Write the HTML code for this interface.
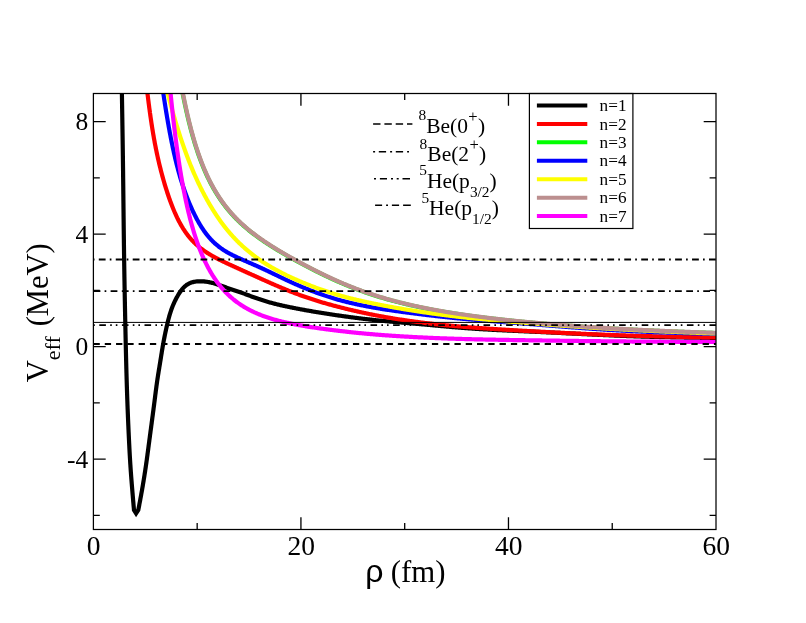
<!DOCTYPE html>
<html><head><meta charset="utf-8"><title>Veff</title>
<style>
html,body{margin:0;padding:0;background:#fff;}
body{width:806px;height:623px;overflow:hidden;}
svg{display:block;}
text{font-family:"Liberation Serif",serif;fill:#000;}
svg{will-change:transform;}
</style></head><body>
<svg width="806" height="623" viewBox="0 0 806 623">
<defs><clipPath id="c"><rect x="93.40" y="93.50" width="622.60" height="436.00"/></clipPath></defs>
<rect x="0" y="0" width="806" height="623" fill="#ffffff"/>
<g clip-path="url(#c)" fill="none" stroke-linejoin="miter" stroke-miterlimit="10" stroke-linecap="butt">
<path d="M121.36 60.00 L121.38 60.80 L121.39 61.61 L121.40 62.41 L121.41 63.21 L121.43 64.01 L121.44 64.82 L121.45 65.62 L121.46 66.42 L121.48 67.22 L121.49 68.03 L121.50 68.83 L121.51 69.63 L121.53 70.43 L121.54 71.24 L121.55 72.04 L121.57 72.84 L121.58 73.64 L121.59 74.45 L121.61 75.25 L121.62 76.05 L121.63 76.85 L121.64 77.66 L121.66 78.46 L121.67 79.26 L121.68 80.06 L121.70 80.87 L121.71 81.67 L121.72 82.47 L121.74 83.27 L121.75 84.08 L121.76 84.88 L121.77 85.68 L121.79 86.48 L121.80 87.29 L121.81 88.09 L121.83 88.89 L121.84 89.69 L121.85 90.50 L121.87 91.30 L121.88 92.10 L121.89 92.90 L121.91 93.71 L121.92 94.51 L121.93 95.31 L121.95 96.11 L121.96 96.92 L121.97 97.72 L121.98 98.52 L122.00 99.32 L122.01 100.13 L122.02 100.93 L122.04 101.73 L122.05 102.53 L122.06 103.34 L122.08 104.14 L122.09 104.94 L122.10 105.74 L122.12 106.55 L122.13 107.35 L122.14 108.15 L122.15 108.95 L122.17 109.76 L122.18 110.56 L122.19 111.36 L122.21 112.16 L122.22 112.97 L122.23 113.77 L122.25 114.57 L122.26 115.37 L122.27 116.18 L122.28 116.98 L122.30 117.78 L122.31 118.58 L122.32 119.39 L122.34 120.19 L122.35 120.99 L122.36 121.79 L122.37 122.60 L122.39 123.40 L122.40 124.20 L122.41 125.00 L122.42 125.81 L122.44 126.61 L122.45 127.41 L122.46 128.21 L122.47 129.02 L122.49 129.82 L122.50 130.62 L122.51 131.42 L122.52 132.23 L122.54 133.03 L122.55 133.83 L122.56 134.64 L122.57 135.44 L122.59 136.24 L122.60 137.04 L122.61 137.85 L122.62 138.65 L122.63 139.45 L122.65 140.25 L122.66 141.06 L122.67 141.86 L122.68 142.66 L122.69 143.46 L122.70 144.27 L122.72 145.07 L122.73 145.87 L122.74 146.67 L122.75 147.48 L122.76 148.28 L122.77 149.08 L122.79 149.88 L122.80 150.69 L122.81 151.49 L122.82 152.29 L122.83 153.09 L122.84 153.90 L122.85 154.70 L122.86 155.50 L122.88 156.30 L122.89 157.11 L122.90 157.91 L122.91 158.71 L122.92 159.51 L122.93 160.32 L122.94 161.12 L122.95 161.92 L122.96 162.72 L122.97 163.53 L122.98 164.33 L122.99 165.13 L123.00 165.93 L123.01 166.74 L123.02 167.54 L123.04 168.34 L123.05 169.14 L123.06 169.95 L123.07 170.75 L123.08 171.55 L123.09 172.36 L123.10 173.16 L123.11 173.96 L123.11 174.76 L123.12 175.57 L123.13 176.37 L123.14 177.17 L123.15 177.97 L123.16 178.78 L123.17 179.58 L123.18 180.38 L123.19 181.18 L123.20 181.99 L123.21 182.79 L123.22 183.59 L123.23 184.39 L123.24 185.20 L123.25 186.00 L123.26 186.80 L123.27 187.60 L123.28 188.41 L123.28 189.21 L123.29 190.01 L123.30 190.81 L123.31 191.62 L123.32 192.42 L123.33 193.22 L123.34 194.02 L123.35 194.83 L123.36 195.63 L123.37 196.43 L123.38 197.24 L123.38 198.04 L123.39 198.84 L123.40 199.64 L123.41 200.45 L123.42 201.25 L123.43 202.05 L123.44 202.85 L123.45 203.66 L123.46 204.46 L123.47 205.26 L123.47 206.06 L123.48 206.87 L123.49 207.67 L123.50 208.47 L123.51 209.27 L123.52 210.08 L123.53 210.88 L123.54 211.68 L123.55 212.48 L123.56 213.29 L123.56 214.09 L123.57 214.89 L123.58 215.69 L123.59 216.50 L123.60 217.30 L123.61 218.10 L123.62 218.90 L123.63 219.71 L123.64 220.51 L123.65 221.31 L123.66 222.12 L123.67 222.92 L123.67 223.72 L123.68 224.52 L123.69 225.33 L123.70 226.13 L123.71 226.93 L123.72 227.73 L123.73 228.54 L123.74 229.34 L123.75 230.14 L123.76 230.94 L123.77 231.75 L123.78 232.55 L123.79 233.35 L123.80 234.15 L123.81 234.96 L123.82 235.76 L123.83 236.56 L123.84 237.36 L123.85 238.17 L123.86 238.97 L123.87 239.77 L123.88 240.57 L123.89 241.38 L123.90 242.18 L123.91 242.98 L123.92 243.78 L123.93 244.59 L123.94 245.39 L123.95 246.19 L123.97 246.99 L123.98 247.80 L123.99 248.60 L124.00 249.40 L124.01 250.20 L124.02 251.01 L124.03 251.81 L124.04 252.61 L124.05 253.42 L124.07 254.22 L124.08 255.02 L124.09 255.82 L124.10 256.63 L124.11 257.43 L124.12 258.23 L124.14 259.03 L124.15 259.84 L124.16 260.64 L124.17 261.44 L124.18 262.24 L124.20 263.05 L124.21 263.85 L124.22 264.65 L124.23 265.45 L124.25 266.26 L124.26 267.06 L124.27 267.86 L124.28 268.66 L124.30 269.47 L124.31 270.27 L124.32 271.07 L124.34 271.87 L124.35 272.68 L124.36 273.48 L124.37 274.28 L124.39 275.08 L124.40 275.89 L124.41 276.69 L124.43 277.49 L124.44 278.29 L124.45 279.10 L124.47 279.90 L124.48 280.70 L124.50 281.50 L124.51 282.31 L124.52 283.11 L124.54 283.91 L124.55 284.71 L124.57 285.52 L124.58 286.32 L124.59 287.12 L124.61 287.92 L124.62 288.73 L124.64 289.53 L124.65 290.33 L124.67 291.13 L124.68 291.94 L124.70 292.74 L124.71 293.54 L124.72 294.34 L124.74 295.15 L124.75 295.95 L124.77 296.75 L124.78 297.55 L124.80 298.36 L124.81 299.16 L124.83 299.96 L124.84 300.76 L124.86 301.57 L124.88 302.37 L124.89 303.17 L124.91 303.97 L124.92 304.78 L124.94 305.58 L124.95 306.38 L124.97 307.18 L124.98 307.99 L125.00 308.79 L125.02 309.59 L125.03 310.39 L125.05 311.20 L125.06 312.00 L125.08 312.80 L125.10 313.60 L125.11 314.41 L125.13 315.21 L125.14 316.01 L125.16 316.81 L125.18 317.62 L125.19 318.42 L125.21 319.22 L125.23 320.02 L125.24 320.83 L125.26 321.63 L125.28 322.43 L125.29 323.23 L125.31 324.04 L125.33 324.84 L125.34 325.64 L125.36 326.44 L125.38 327.25 L125.39 328.05 L125.41 328.85 L125.43 329.65 L125.45 330.46 L125.46 331.26 L125.48 332.06 L125.50 332.86 L125.51 333.66 L125.53 334.47 L125.55 335.27 L125.57 336.07 L125.58 336.87 L125.60 337.68 L125.62 338.48 L125.64 339.28 L125.65 340.08 L125.67 340.89 L125.69 341.69 L125.71 342.49 L125.73 343.29 L125.74 344.10 L125.76 344.90 L125.78 345.70 L125.80 346.50 L125.82 347.31 L125.84 348.11 L125.86 348.91 L125.87 349.71 L125.89 350.52 L125.91 351.32 L125.93 352.12 L125.95 352.92 L125.97 353.73 L125.99 354.53 L126.01 355.33 L126.03 356.13 L126.05 356.94 L126.07 357.74 L126.09 358.54 L126.11 359.34 L126.13 360.14 L126.15 360.95 L126.17 361.75 L126.19 362.55 L126.21 363.35 L126.23 364.16 L126.25 364.96 L126.27 365.76 L126.29 366.56 L126.31 367.37 L126.33 368.17 L126.35 368.97 L126.38 369.77 L126.40 370.58 L126.42 371.38 L126.44 372.18 L126.46 372.98 L126.49 373.78 L126.51 374.59 L126.53 375.39 L126.55 376.19 L126.58 376.99 L126.60 377.80 L126.62 378.60 L126.65 379.40 L126.67 380.20 L126.69 381.01 L126.72 381.81 L126.74 382.61 L126.77 383.41 L126.79 384.21 L126.81 385.02 L126.84 385.82 L126.86 386.62 L126.89 387.42 L126.92 388.23 L126.94 389.03 L126.97 389.83 L126.99 390.63 L127.02 391.43 L127.04 392.24 L127.07 393.04 L127.10 393.84 L127.13 394.64 L127.15 395.45 L127.18 396.25 L127.21 397.05 L127.23 397.85 L127.26 398.65 L127.29 399.46 L127.32 400.26 L127.35 401.06 L127.38 401.86 L127.41 402.66 L127.43 403.47 L127.46 404.27 L127.49 405.07 L127.52 405.87 L127.55 406.68 L127.58 407.48 L127.61 408.28 L127.65 409.08 L127.68 409.88 L127.71 410.69 L127.74 411.49 L127.77 412.29 L127.80 413.09 L127.84 413.89 L127.87 414.70 L127.90 415.50 L127.93 416.30 L127.97 417.10 L128.00 417.90 L128.03 418.71 L128.07 419.51 L128.10 420.31 L128.13 421.11 L128.17 421.91 L128.20 422.71 L128.24 423.52 L128.27 424.32 L128.31 425.12 L128.34 425.92 L128.38 426.72 L128.41 427.53 L128.45 428.33 L128.48 429.13 L128.52 429.93 L128.56 430.73 L128.59 431.53 L128.63 432.34 L128.67 433.14 L128.70 433.94 L128.74 434.74 L128.78 435.54 L128.82 436.35 L128.85 437.15 L128.89 437.95 L128.93 438.75 L128.97 439.55 L129.01 440.35 L129.05 441.16 L129.09 441.96 L129.13 442.76 L129.17 443.56 L129.21 444.36 L129.25 445.16 L129.29 445.97 L129.33 446.77 L129.37 447.57 L129.41 448.37 L129.45 449.17 L129.49 449.97 L129.54 450.77 L129.58 451.58 L129.62 452.38 L129.67 453.18 L129.71 453.98 L129.76 454.78 L129.80 455.58 L129.85 456.38 L129.89 457.19 L129.94 457.99 L129.99 458.79 L130.04 459.59 L130.08 460.39 L130.13 461.19 L130.18 461.99 L130.23 462.79 L130.28 463.60 L130.33 464.40 L130.39 465.20 L130.44 466.00 L130.49 466.80 L130.55 467.60 L130.60 468.40 L130.65 469.20 L130.71 470.00 L130.77 470.80 L130.82 471.60 L130.88 472.40 L130.94 473.20 L131.00 474.00 L131.06 474.81 L131.12 475.61 L131.18 476.41 L131.24 477.21 L131.30 478.01 L131.36 478.81 L131.43 479.61 L131.49 480.41 L131.55 481.21 L131.62 482.01 L131.68 482.81 L131.74 483.61 L131.81 484.41 L131.87 485.21 L131.94 486.01 L132.01 486.81 L132.07 487.61 L132.14 488.41 L132.20 489.21 L132.27 490.01 L132.34 490.81 L132.40 491.61 L132.47 492.41 L132.54 493.21 L132.61 494.01 L132.67 494.81 L132.74 495.61 L132.81 496.41 L132.88 497.20 L132.95 498.00 L133.01 498.80 L133.08 499.60 L133.15 500.40 L133.22 501.20 L133.29 502.00 L133.36 502.80 L133.43 503.60 L133.49 504.40 L133.56 505.20 L133.63 506.00 L133.70 506.80 L133.77 507.60 L133.84 508.40 L133.91 509.20 L133.98 510.00 L136.10 513.30 L138.31 510.00 L138.46 509.21 L138.61 508.43 L138.76 507.64 L138.91 506.85 L139.06 506.06 L139.21 505.28 L139.35 504.49 L139.50 503.70 L139.65 502.91 L139.80 502.13 L139.95 501.34 L140.10 500.55 L140.24 499.76 L140.39 498.97 L140.54 498.19 L140.68 497.40 L140.83 496.61 L140.97 495.82 L141.12 495.03 L141.26 494.24 L141.40 493.45 L141.54 492.67 L141.68 491.88 L141.82 491.09 L141.96 490.30 L142.10 489.51 L142.24 488.72 L142.38 487.93 L142.52 487.14 L142.65 486.35 L142.79 485.56 L142.92 484.77 L143.05 483.98 L143.19 483.19 L143.32 482.40 L143.45 481.61 L143.58 480.82 L143.71 480.02 L143.84 479.23 L143.97 478.44 L144.10 477.65 L144.22 476.86 L144.35 476.07 L144.48 475.28 L144.60 474.48 L144.72 473.69 L144.85 472.90 L144.97 472.11 L145.09 471.32 L145.21 470.52 L145.33 469.73 L145.45 468.94 L145.57 468.14 L145.69 467.35 L145.80 466.56 L145.92 465.77 L146.03 464.97 L146.15 464.18 L146.26 463.39 L146.37 462.59 L146.49 461.80 L146.60 461.00 L146.71 460.21 L146.82 459.42 L146.93 458.62 L147.04 457.83 L147.14 457.03 L147.25 456.24 L147.36 455.44 L147.47 454.65 L147.57 453.86 L147.68 453.06 L147.79 452.27 L147.89 451.47 L148.00 450.68 L148.10 449.88 L148.21 449.09 L148.32 448.29 L148.42 447.50 L148.52 446.70 L148.63 445.91 L148.73 445.11 L148.84 444.32 L148.94 443.53 L149.05 442.73 L149.15 441.94 L149.26 441.14 L149.36 440.35 L149.47 439.55 L149.57 438.76 L149.68 437.96 L149.78 437.17 L149.89 436.37 L149.99 435.58 L150.10 434.78 L150.20 433.99 L150.31 433.19 L150.42 432.40 L150.52 431.61 L150.63 430.81 L150.73 430.02 L150.84 429.22 L150.95 428.43 L151.05 427.63 L151.16 426.84 L151.26 426.04 L151.37 425.25 L151.48 424.45 L151.58 423.66 L151.69 422.87 L151.79 422.07 L151.90 421.28 L152.01 420.48 L152.11 419.69 L152.22 418.89 L152.32 418.10 L152.43 417.30 L152.53 416.51 L152.64 415.71 L152.74 414.92 L152.85 414.12 L152.95 413.33 L153.06 412.53 L153.16 411.74 L153.27 410.95 L153.37 410.15 L153.48 409.36 L153.58 408.56 L153.68 407.77 L153.79 406.97 L153.89 406.18 L153.99 405.38 L154.10 404.59 L154.20 403.79 L154.30 403.00 L154.40 402.20 L154.50 401.41 L154.61 400.61 L154.71 399.82 L154.81 399.02 L154.91 398.22 L155.01 397.43 L155.11 396.63 L155.21 395.84 L155.31 395.04 L155.41 394.25 L155.51 393.45 L155.62 392.66 L155.72 391.86 L155.82 391.07 L155.92 390.27 L156.03 389.48 L156.13 388.68 L156.23 387.89 L156.34 387.09 L156.45 386.30 L156.55 385.51 L156.66 384.71 L156.77 383.92 L156.88 383.12 L157.00 382.33 L157.11 381.54 L157.22 380.74 L157.34 379.95 L157.46 379.16 L157.58 378.36 L157.70 377.57 L157.82 376.78 L157.94 375.99 L158.07 375.20 L158.19 374.40 L158.32 373.61 L158.45 372.82 L158.57 372.03 L158.70 371.24 L158.83 370.45 L158.96 369.66 L159.09 368.86 L159.22 368.07 L159.35 367.28 L159.48 366.49 L159.61 365.70 L159.74 364.91 L159.87 364.12 L159.99 363.33 L160.12 362.53 L160.25 361.74 L160.38 360.95 L160.50 360.16 L160.63 359.37 L160.75 358.58 L160.88 357.79 L161.01 356.99 L161.13 356.20 L161.26 355.41 L161.38 354.62 L161.51 353.83 L161.64 353.04 L161.76 352.24 L161.89 351.45 L162.02 350.66 L162.15 349.87 L162.28 349.08 L162.42 348.29 L162.55 347.50 L162.68 346.71 L162.82 345.92 L162.96 345.13 L163.10 344.34 L163.24 343.55 L163.38 342.76 L163.53 341.97 L163.67 341.19 L163.82 340.40 L163.97 339.61 L164.12 338.82 L164.28 338.04 L164.43 337.25 L164.59 336.46 L164.74 335.68 L164.90 334.89 L165.07 334.11 L165.23 333.32 L165.39 332.54 L165.56 331.75 L165.73 330.97 L165.90 330.19 L166.07 329.40 L166.24 328.62 L166.42 327.84 L166.59 327.06 L166.77 326.27 L166.95 325.49 L167.13 324.71 L167.32 323.93 L167.50 323.15 L167.69 322.37 L167.88 321.59 L168.07 320.82 L168.26 320.04 L168.46 319.26 L168.66 318.49 L168.87 317.71 L169.08 316.94 L169.29 316.16 L169.51 315.39 L169.74 314.62 L169.97 313.86 L170.21 313.09 L170.45 312.33 L170.70 311.56 L170.95 310.80 L171.21 310.05 L171.48 309.29 L171.76 308.54 L172.04 307.79 L172.32 307.04 L172.62 306.29 L172.92 305.55 L173.23 304.81 L173.54 304.07 L173.87 303.34 L174.19 302.61 L174.53 301.88 L174.87 301.16 L175.22 300.43 L175.58 299.72 L175.94 299.00 L176.31 298.29 L176.69 297.58 L177.07 296.88 L177.47 296.18 L177.87 295.49 L178.28 294.80 L178.70 294.12 L179.13 293.44 L179.57 292.77 L180.01 292.10 L180.47 291.44 L180.93 290.79 L181.41 290.15 L181.90 289.51 L182.41 288.89 L182.94 288.29 L183.48 287.70 L184.04 287.12 L184.62 286.57 L185.22 286.04 L185.84 285.54 L186.49 285.06 L187.15 284.61 L187.84 284.19 L188.54 283.80 L189.25 283.44 L189.98 283.11 L190.73 282.82 L191.48 282.55 L192.25 282.31 L193.02 282.10 L193.80 281.92 L194.59 281.76 L195.38 281.63 L196.17 281.52 L196.97 281.43 L197.77 281.37 L198.57 281.32 L199.37 281.29 L200.17 281.28 L200.97 281.29 L201.77 281.31 L202.57 281.34 L203.37 281.40 L204.17 281.46 L204.97 281.55 L205.77 281.64 L206.56 281.75 L207.35 281.88 L208.14 282.01 L208.93 282.16 L209.72 282.32 L210.50 282.49 L211.28 282.67 L212.06 282.86 L212.84 283.06 L213.61 283.27 L214.38 283.49 L215.15 283.71 L215.92 283.94 L216.68 284.18 L217.45 284.43 L218.21 284.68 L218.97 284.93 L219.73 285.19 L220.48 285.45 L221.24 285.72 L222.00 285.99 L222.75 286.26 L223.50 286.53 L224.26 286.80 L225.01 287.07 L225.77 287.34 L226.52 287.61 L227.28 287.88 L228.03 288.15 L228.79 288.42 L229.54 288.69 L230.30 288.96 L231.05 289.22 L231.81 289.49 L232.57 289.75 L233.33 290.01 L234.08 290.27 L234.84 290.53 L235.60 290.79 L236.36 291.04 L237.12 291.30 L237.88 291.55 L238.64 291.80 L239.40 292.06 L240.16 292.31 L240.92 292.57 L241.68 292.83 L242.44 293.09 L243.20 293.36 L243.95 293.62 L244.71 293.89 L245.46 294.17 L246.21 294.44 L246.96 294.72 L247.71 295.00 L248.46 295.29 L249.21 295.57 L249.96 295.85 L250.72 296.13 L251.47 296.41 L252.22 296.69 L252.97 296.96 L253.73 297.24 L254.48 297.51 L255.23 297.78 L255.99 298.05 L256.75 298.31 L257.50 298.57 L258.26 298.84 L259.02 299.09 L259.78 299.35 L260.54 299.60 L261.30 299.85 L262.06 300.10 L262.83 300.35 L263.59 300.59 L264.36 300.83 L265.12 301.06 L265.89 301.29 L266.66 301.52 L267.43 301.75 L268.20 301.97 L268.97 302.19 L269.74 302.41 L270.51 302.62 L271.29 302.83 L272.06 303.04 L272.84 303.24 L273.61 303.45 L274.39 303.65 L275.17 303.84 L275.94 304.04 L276.72 304.23 L277.50 304.42 L278.28 304.61 L279.06 304.79 L279.84 304.98 L280.62 305.16 L281.40 305.34 L282.18 305.51 L282.97 305.69 L283.75 305.86 L284.53 306.04 L285.31 306.21 L286.10 306.37 L286.88 306.54 L287.67 306.71 L288.45 306.87 L289.24 307.03 L290.02 307.20 L290.81 307.36 L291.59 307.52 L292.38 307.67 L293.16 307.83 L293.95 307.99 L294.74 308.14 L295.52 308.30 L296.31 308.45 L297.10 308.60 L297.88 308.75 L298.67 308.90 L299.46 309.05 L300.25 309.20 L301.04 309.34 L301.82 309.49 L302.61 309.64 L303.40 309.78 L304.19 309.92 L304.98 310.07 L305.77 310.21 L306.56 310.35 L307.35 310.49 L308.14 310.63 L308.93 310.76 L309.71 310.90 L310.50 311.04 L311.29 311.18 L312.08 311.31 L312.87 311.45 L313.67 311.58 L314.46 311.71 L315.25 311.85 L316.04 311.98 L316.83 312.11 L317.62 312.24 L318.41 312.37 L319.20 312.50 L319.99 312.63 L320.78 312.76 L321.57 312.89 L322.36 313.02 L323.16 313.14 L323.95 313.27 L324.74 313.40 L325.53 313.52 L326.32 313.65 L327.12 313.77 L327.91 313.89 L328.70 314.02 L329.49 314.14 L330.28 314.26 L331.08 314.38 L331.87 314.50 L332.66 314.62 L333.45 314.74 L334.25 314.86 L335.04 314.98 L335.83 315.09 L336.63 315.21 L337.42 315.33 L338.21 315.44 L339.01 315.56 L339.80 315.67 L340.59 315.79 L341.39 315.90 L342.18 316.01 L342.97 316.12 L343.77 316.23 L344.56 316.34 L345.36 316.45 L346.15 316.56 L346.94 316.67 L347.74 316.78 L348.53 316.89 L349.33 316.99 L350.12 317.10 L350.92 317.21 L351.71 317.31 L352.51 317.41 L353.30 317.52 L354.10 317.62 L354.89 317.72 L355.69 317.82 L356.48 317.93 L357.28 318.03 L358.07 318.13 L358.87 318.22 L359.66 318.32 L360.46 318.42 L361.25 318.52 L362.05 318.61 L362.85 318.71 L363.64 318.80 L364.44 318.90 L365.23 318.99 L366.03 319.08 L366.83 319.18 L367.62 319.27 L368.42 319.36 L369.22 319.45 L370.01 319.54 L370.81 319.63 L371.61 319.71 L372.40 319.80 L373.20 319.89 L374.00 319.97 L374.79 320.06 L375.59 320.14 L376.39 320.23 L377.19 320.31 L377.98 320.39 L378.78 320.47 L379.58 320.55 L380.38 320.63 L381.17 320.71 L381.97 320.79 L382.77 320.87 L383.57 320.95 L384.36 321.02 L385.16 321.10 L385.96 321.17 L386.76 321.25 L387.56 321.32 L388.36 321.40 L389.15 321.47 L389.95 321.54 L390.75 321.61 L391.55 321.69 L392.35 321.76 L393.15 321.83 L393.94 321.90 L394.74 321.97 L395.54 322.04 L396.34 322.11 L397.14 322.18 L397.94 322.25 L398.74 322.31 L399.53 322.38 L400.33 322.45 L401.13 322.52 L401.93 322.59 L402.73 322.66 L403.53 322.72 L404.33 322.79 L405.13 322.86 L405.92 322.93 L406.72 322.99 L407.52 323.06 L408.32 323.13 L409.12 323.20 L409.92 323.26 L410.72 323.33 L411.52 323.40 L412.31 323.47 L413.11 323.54 L413.91 323.61 L414.71 323.67 L415.51 323.74 L416.31 323.81 L417.11 323.88 L417.90 323.95 L418.70 324.02 L419.50 324.09 L420.30 324.16 L421.10 324.23 L421.90 324.30 L422.70 324.38 L423.49 324.45 L424.29 324.52 L425.09 324.59 L425.89 324.66 L426.69 324.74 L427.49 324.81 L428.28 324.88 L429.08 324.96 L429.88 325.03 L430.68 325.10 L431.48 325.18 L432.27 325.25 L433.07 325.32 L433.87 325.40 L434.67 325.47 L435.47 325.55 L436.27 325.62 L437.06 325.69 L437.86 325.77 L438.66 325.84 L439.46 325.91 L440.26 325.99 L441.06 326.06 L441.85 326.13 L442.65 326.21 L443.45 326.28 L444.25 326.35 L445.05 326.42 L445.85 326.49 L446.64 326.57 L447.44 326.64 L448.24 326.71 L449.04 326.78 L449.84 326.85 L450.64 326.92 L451.44 326.99 L452.23 327.05 L453.03 327.12 L453.83 327.19 L454.63 327.26 L455.43 327.32 L456.23 327.39 L457.03 327.46 L457.83 327.52 L458.62 327.59 L459.42 327.65 L460.22 327.71 L461.02 327.77 L461.82 327.84 L462.62 327.90 L463.42 327.96 L464.22 328.02 L465.02 328.08 L465.82 328.14 L466.62 328.19 L467.42 328.25 L468.22 328.31 L469.02 328.36 L469.82 328.42 L470.62 328.47 L471.42 328.53 L472.22 328.58 L473.02 328.64 L473.81 328.69 L474.61 328.74 L475.41 328.79 L476.21 328.84 L477.01 328.90 L477.81 328.95 L478.61 329.00 L479.41 329.05 L480.21 329.09 L481.02 329.14 L481.82 329.19 L482.62 329.24 L483.42 329.29 L484.22 329.33 L485.02 329.38 L485.82 329.42 L486.62 329.47 L487.42 329.51 L488.22 329.56 L489.02 329.60 L489.82 329.65 L490.62 329.69 L491.42 329.73 L492.22 329.78 L493.02 329.82 L493.82 329.86 L494.62 329.90 L495.42 329.94 L496.22 329.99 L497.02 330.03 L497.82 330.07 L498.62 330.11 L499.42 330.15 L500.23 330.19 L501.03 330.23 L501.83 330.27 L502.63 330.31 L503.43 330.34 L504.23 330.38 L505.03 330.42 L505.83 330.46 L506.63 330.50 L507.43 330.54 L508.23 330.57 L509.03 330.61 L509.83 330.65 L510.63 330.68 L511.44 330.72 L512.24 330.76 L513.04 330.79 L513.84 330.83 L514.64 330.87 L515.44 330.90 L516.24 330.94 L517.04 330.98 L517.84 331.01 L518.64 331.05 L519.44 331.08 L520.24 331.12 L521.04 331.15 L521.85 331.19 L522.65 331.23 L523.45 331.26 L524.25 331.30 L525.05 331.33 L525.85 331.37 L526.65 331.40 L527.45 331.44 L528.25 331.47 L529.05 331.51 L529.85 331.55 L530.65 331.58 L531.46 331.62 L532.26 331.65 L533.06 331.69 L533.86 331.72 L534.66 331.76 L535.46 331.80 L536.26 331.83 L537.06 331.87 L537.86 331.90 L538.66 331.94 L539.46 331.98 L540.26 332.01 L541.06 332.05 L541.87 332.09 L542.67 332.13 L543.47 332.16 L544.27 332.20 L545.07 332.24 L545.87 332.27 L546.67 332.31 L547.47 332.35 L548.27 332.39 L549.07 332.43 L549.87 332.46 L550.67 332.50 L551.47 332.54 L552.27 332.58 L553.08 332.62 L553.88 332.66 L554.68 332.70 L555.48 332.73 L556.28 332.77 L557.08 332.81 L557.88 332.85 L558.68 332.89 L559.48 332.93 L560.28 332.97 L561.08 333.01 L561.88 333.05 L562.68 333.08 L563.48 333.12 L564.28 333.16 L565.09 333.20 L565.89 333.24 L566.69 333.28 L567.49 333.32 L568.29 333.36 L569.09 333.40 L569.89 333.44 L570.69 333.48 L571.49 333.52 L572.29 333.56 L573.09 333.60 L573.89 333.64 L574.69 333.68 L575.49 333.72 L576.29 333.75 L577.09 333.79 L577.90 333.83 L578.70 333.87 L579.50 333.91 L580.30 333.95 L581.10 333.99 L581.90 334.03 L582.70 334.07 L583.50 334.11 L584.30 334.15 L585.10 334.18 L585.90 334.22 L586.70 334.26 L587.50 334.30 L588.30 334.34 L589.10 334.38 L589.91 334.42 L590.71 334.46 L591.51 334.49 L592.31 334.53 L593.11 334.57 L593.91 334.61 L594.71 334.65 L595.51 334.68 L596.31 334.72 L597.11 334.76 L597.91 334.80 L598.71 334.83 L599.51 334.87 L600.31 334.91 L601.12 334.94 L601.92 334.98 L602.72 335.02 L603.52 335.05 L604.32 335.09 L605.12 335.13 L605.92 335.16 L606.72 335.20 L607.52 335.23 L608.32 335.27 L609.12 335.30 L609.92 335.34 L610.73 335.37 L611.53 335.41 L612.33 335.44 L613.13 335.48 L613.93 335.51 L614.73 335.55 L615.53 335.58 L616.33 335.61 L617.13 335.65 L617.93 335.68 L618.73 335.71 L619.54 335.75 L620.34 335.78 L621.14 335.81 L621.94 335.84 L622.74 335.88 L623.54 335.91 L624.34 335.94 L625.14 335.97 L625.94 336.00 L626.74 336.03 L627.55 336.06 L628.35 336.09 L629.15 336.12 L629.95 336.15 L630.75 336.18 L631.55 336.21 L632.35 336.24 L633.15 336.27 L633.95 336.30 L634.75 336.32 L635.56 336.35 L636.36 336.38 L637.16 336.41 L637.96 336.43 L638.76 336.46 L639.56 336.48 L640.36 336.51 L641.16 336.54 L641.97 336.56 L642.77 336.59 L643.57 336.61 L644.37 336.63 L645.17 336.66 L645.97 336.68 L646.77 336.71 L647.57 336.73 L648.38 336.75 L649.18 336.77 L649.98 336.80 L650.78 336.82 L651.58 336.84 L652.38 336.86 L653.18 336.88 L653.98 336.90 L654.79 336.92 L655.59 336.94 L656.39 336.96 L657.19 336.98 L657.99 337.00 L658.79 337.02 L659.59 337.04 L660.40 337.06 L661.20 337.08 L662.00 337.10 L662.80 337.12 L663.60 337.14 L664.40 337.15 L665.20 337.17 L666.01 337.19 L666.81 337.21 L667.61 337.22 L668.41 337.24 L669.21 337.26 L670.01 337.27 L670.81 337.29 L671.62 337.30 L672.42 337.32 L673.22 337.34 L674.02 337.35 L674.82 337.37 L675.62 337.38 L676.42 337.40 L677.23 337.41 L678.03 337.43 L678.83 337.44 L679.63 337.45 L680.43 337.47 L681.23 337.48 L682.03 337.50 L682.84 337.51 L683.64 337.52 L684.44 337.54 L685.24 337.55 L686.04 337.56 L686.84 337.58 L687.65 337.59 L688.45 337.60 L689.25 337.61 L690.05 337.63 L690.85 337.64 L691.65 337.65 L692.45 337.66 L693.26 337.68 L694.06 337.69 L694.86 337.70 L695.66 337.71 L696.46 337.72 L697.26 337.74 L698.06 337.75 L698.87 337.76 L699.67 337.77 L700.47 337.78 L701.27 337.79 L702.07 337.80 L702.87 337.82 L703.68 337.83 L704.48 337.84 L705.28 337.85 L706.08 337.86 L706.88 337.87 L707.68 337.88 L708.48 337.89 L709.29 337.90 L710.09 337.91 L710.89 337.93 L711.69 337.94 L712.49 337.95 L713.29 337.96 L714.10 337.97 L714.90 337.98 L715.70 337.99 L716.50 338.00" stroke="#000000" stroke-width="4.2"/>
<path d="M144.09 63.36 L144.17 64.16 L144.25 64.96 L144.34 65.76 L144.42 66.55 L144.51 67.35 L144.60 68.15 L144.68 68.94 L144.77 69.74 L144.85 70.54 L144.94 71.33 L145.03 72.13 L145.12 72.93 L145.20 73.72 L145.29 74.52 L145.38 75.32 L145.47 76.11 L145.56 76.91 L145.64 77.71 L145.73 78.50 L145.82 79.30 L145.91 80.10 L146.00 80.89 L146.09 81.69 L146.18 82.49 L146.27 83.28 L146.37 84.08 L146.46 84.87 L146.55 85.67 L146.64 86.47 L146.73 87.26 L146.83 88.06 L146.92 88.85 L147.02 89.65 L147.11 90.45 L147.21 91.24 L147.30 92.04 L147.40 92.83 L147.49 93.63 L147.59 94.43 L147.69 95.22 L147.78 96.02 L147.88 96.81 L147.98 97.61 L148.08 98.40 L148.18 99.20 L148.28 99.99 L148.38 100.79 L148.48 101.58 L148.58 102.38 L148.68 103.17 L148.79 103.97 L148.89 104.76 L148.99 105.56 L149.10 106.35 L149.20 107.15 L149.31 107.94 L149.41 108.74 L149.52 109.53 L149.63 110.32 L149.74 111.12 L149.85 111.91 L149.95 112.71 L150.07 113.50 L150.18 114.29 L150.29 115.09 L150.40 115.88 L150.51 116.67 L150.63 117.47 L150.74 118.26 L150.86 119.05 L150.98 119.85 L151.09 120.64 L151.21 121.43 L151.33 122.23 L151.45 123.02 L151.57 123.81 L151.69 124.60 L151.81 125.39 L151.94 126.19 L152.06 126.98 L152.19 127.77 L152.31 128.56 L152.44 129.35 L152.57 130.14 L152.70 130.93 L152.83 131.72 L152.96 132.52 L153.09 133.31 L153.23 134.10 L153.36 134.89 L153.50 135.68 L153.64 136.47 L153.77 137.26 L153.91 138.04 L154.05 138.83 L154.20 139.62 L154.34 140.41 L154.48 141.20 L154.63 141.99 L154.77 142.78 L154.92 143.56 L155.07 144.35 L155.22 145.14 L155.38 145.92 L155.53 146.71 L155.68 147.50 L155.84 148.28 L156.00 149.07 L156.16 149.86 L156.32 150.64 L156.48 151.43 L156.64 152.21 L156.81 152.99 L156.97 153.78 L157.14 154.56 L157.31 155.35 L157.48 156.13 L157.65 156.91 L157.83 157.69 L158.00 158.48 L158.18 159.26 L158.36 160.04 L158.54 160.82 L158.72 161.60 L158.90 162.38 L159.09 163.16 L159.27 163.94 L159.46 164.72 L159.65 165.50 L159.84 166.28 L160.03 167.05 L160.23 167.83 L160.42 168.61 L160.62 169.39 L160.82 170.16 L161.02 170.94 L161.22 171.71 L161.42 172.49 L161.63 173.26 L161.83 174.04 L162.04 174.81 L162.25 175.59 L162.46 176.36 L162.67 177.13 L162.89 177.91 L163.10 178.68 L163.32 179.45 L163.54 180.22 L163.76 180.99 L163.98 181.76 L164.20 182.53 L164.43 183.30 L164.66 184.07 L164.88 184.84 L165.11 185.61 L165.35 186.37 L165.58 187.14 L165.81 187.91 L166.05 188.67 L166.29 189.44 L166.53 190.20 L166.78 190.96 L167.02 191.73 L167.27 192.49 L167.52 193.25 L167.77 194.01 L168.02 194.77 L168.28 195.53 L168.54 196.29 L168.80 197.05 L169.06 197.81 L169.32 198.56 L169.59 199.32 L169.86 200.07 L170.13 200.83 L170.41 201.58 L170.69 202.33 L170.97 203.08 L171.25 203.83 L171.54 204.58 L171.83 205.33 L172.12 206.07 L172.41 206.82 L172.71 207.56 L173.01 208.31 L173.31 209.05 L173.62 209.79 L173.93 210.53 L174.25 211.26 L174.56 212.00 L174.88 212.74 L175.21 213.47 L175.54 214.20 L175.87 214.93 L176.20 215.66 L176.54 216.38 L176.89 217.11 L177.23 217.83 L177.59 218.55 L177.94 219.27 L178.30 219.98 L178.67 220.70 L179.04 221.41 L179.41 222.12 L179.79 222.82 L180.17 223.53 L180.56 224.23 L180.96 224.92 L181.36 225.62 L181.76 226.31 L182.17 227.00 L182.59 227.68 L183.01 228.37 L183.44 229.04 L183.87 229.72 L184.31 230.39 L184.76 231.05 L185.21 231.72 L185.67 232.37 L186.13 233.03 L186.60 233.68 L187.08 234.32 L187.56 234.96 L188.05 235.59 L188.55 236.22 L189.05 236.84 L189.56 237.46 L190.08 238.08 L190.60 238.68 L191.13 239.28 L191.67 239.88 L192.21 240.47 L192.76 241.05 L193.32 241.63 L193.88 242.20 L194.45 242.76 L195.03 243.32 L195.61 243.87 L196.20 244.42 L196.79 244.96 L197.39 245.49 L197.99 246.01 L198.60 246.53 L199.22 247.05 L199.84 247.55 L200.47 248.05 L201.10 248.54 L201.74 249.03 L202.38 249.51 L203.03 249.98 L203.68 250.45 L204.33 250.91 L204.99 251.37 L205.66 251.82 L206.33 252.26 L207.00 252.70 L207.67 253.13 L208.35 253.55 L209.03 253.97 L209.72 254.39 L210.41 254.80 L211.10 255.21 L211.79 255.61 L212.49 256.00 L213.19 256.40 L213.89 256.79 L214.59 257.17 L215.30 257.55 L216.00 257.93 L216.71 258.30 L217.42 258.67 L218.14 259.04 L218.85 259.40 L219.57 259.77 L220.28 260.12 L221.00 260.48 L221.72 260.83 L222.44 261.19 L223.16 261.54 L223.88 261.88 L224.61 262.23 L225.33 262.57 L226.05 262.92 L226.78 263.26 L227.50 263.60 L228.23 263.94 L228.96 264.28 L229.68 264.61 L230.41 264.95 L231.14 265.28 L231.87 265.62 L232.60 265.95 L233.33 266.28 L234.06 266.62 L234.79 266.95 L235.52 267.28 L236.25 267.61 L236.98 267.94 L237.71 268.27 L238.44 268.60 L239.17 268.93 L239.90 269.26 L240.63 269.59 L241.36 269.92 L242.09 270.25 L242.82 270.58 L243.55 270.91 L244.28 271.24 L245.01 271.57 L245.74 271.90 L246.47 272.23 L247.20 272.56 L247.93 272.89 L248.66 273.22 L249.39 273.55 L250.12 273.88 L250.85 274.21 L251.58 274.54 L252.31 274.87 L253.05 275.20 L253.78 275.53 L254.51 275.86 L255.24 276.19 L255.97 276.52 L256.70 276.85 L257.43 277.18 L258.16 277.51 L258.89 277.84 L259.62 278.16 L260.35 278.49 L261.08 278.82 L261.81 279.15 L262.54 279.48 L263.28 279.81 L264.01 280.13 L264.74 280.46 L265.47 280.79 L266.20 281.11 L266.93 281.44 L267.67 281.77 L268.40 282.09 L269.13 282.42 L269.87 282.74 L270.60 283.06 L271.33 283.39 L272.07 283.71 L272.80 284.03 L273.53 284.35 L274.27 284.67 L275.00 284.99 L275.74 285.31 L276.48 285.63 L277.21 285.95 L277.95 286.26 L278.68 286.58 L279.42 286.89 L280.16 287.21 L280.90 287.52 L281.64 287.83 L282.37 288.14 L283.11 288.45 L283.85 288.76 L284.59 289.06 L285.34 289.37 L286.08 289.67 L286.82 289.98 L287.56 290.28 L288.30 290.58 L289.05 290.88 L289.79 291.18 L290.54 291.47 L291.28 291.77 L292.03 292.06 L292.77 292.35 L293.52 292.64 L294.27 292.93 L295.02 293.22 L295.77 293.50 L296.52 293.79 L297.27 294.07 L298.02 294.35 L298.77 294.63 L299.52 294.90 L300.27 295.18 L301.03 295.45 L301.78 295.72 L302.54 295.99 L303.29 296.26 L304.05 296.53 L304.80 296.79 L305.56 297.06 L306.32 297.32 L307.08 297.58 L307.84 297.83 L308.60 298.09 L309.36 298.34 L310.12 298.60 L310.88 298.85 L311.64 299.09 L312.40 299.34 L313.16 299.59 L313.93 299.83 L314.69 300.07 L315.46 300.31 L316.22 300.55 L316.99 300.79 L317.75 301.03 L318.52 301.26 L319.29 301.49 L320.05 301.72 L320.82 301.95 L321.59 302.18 L322.36 302.41 L323.13 302.64 L323.90 302.86 L324.67 303.08 L325.44 303.30 L326.21 303.53 L326.98 303.74 L327.75 303.96 L328.52 304.18 L329.29 304.39 L330.07 304.61 L330.84 304.82 L331.61 305.03 L332.39 305.24 L333.16 305.45 L333.93 305.66 L334.71 305.87 L335.48 306.07 L336.26 306.28 L337.03 306.48 L337.81 306.68 L338.58 306.89 L339.36 307.09 L340.13 307.29 L340.91 307.49 L341.69 307.68 L342.47 307.88 L343.24 308.08 L344.02 308.27 L344.80 308.46 L345.58 308.66 L346.35 308.85 L347.13 309.04 L347.91 309.23 L348.69 309.42 L349.47 309.60 L350.25 309.79 L351.03 309.97 L351.81 310.16 L352.59 310.34 L353.37 310.52 L354.15 310.71 L354.93 310.88 L355.71 311.06 L356.49 311.24 L357.28 311.42 L358.06 311.59 L358.84 311.77 L359.62 311.94 L360.41 312.12 L361.19 312.29 L361.97 312.46 L362.75 312.63 L363.54 312.80 L364.32 312.96 L365.11 313.13 L365.89 313.29 L366.67 313.46 L367.46 313.62 L368.24 313.78 L369.03 313.94 L369.81 314.11 L370.60 314.26 L371.39 314.42 L372.17 314.58 L372.96 314.74 L373.74 314.89 L374.53 315.04 L375.32 315.20 L376.10 315.35 L376.89 315.50 L377.68 315.65 L378.47 315.80 L379.25 315.95 L380.04 316.09 L380.83 316.24 L381.62 316.39 L382.41 316.53 L383.20 316.67 L383.98 316.82 L384.77 316.96 L385.56 317.10 L386.35 317.24 L387.14 317.37 L387.93 317.51 L388.72 317.65 L389.51 317.78 L390.30 317.92 L391.09 318.05 L391.88 318.18 L392.67 318.32 L393.46 318.45 L394.25 318.58 L395.04 318.71 L395.84 318.83 L396.63 318.96 L397.42 319.09 L398.21 319.21 L399.00 319.34 L399.79 319.46 L400.59 319.58 L401.38 319.70 L402.17 319.82 L402.96 319.94 L403.76 320.06 L404.55 320.18 L405.34 320.30 L406.13 320.41 L406.93 320.53 L407.72 320.64 L408.51 320.76 L409.31 320.87 L410.10 320.98 L410.89 321.09 L411.69 321.20 L412.48 321.31 L413.28 321.42 L414.07 321.53 L414.86 321.64 L415.66 321.74 L416.45 321.85 L417.25 321.95 L418.04 322.06 L418.84 322.16 L419.63 322.26 L420.43 322.36 L421.22 322.46 L422.02 322.56 L422.81 322.66 L423.61 322.76 L424.40 322.86 L425.20 322.96 L426.00 323.05 L426.79 323.15 L427.59 323.24 L428.38 323.33 L429.18 323.43 L429.98 323.52 L430.77 323.61 L431.57 323.70 L432.36 323.79 L433.16 323.88 L433.96 323.97 L434.75 324.06 L435.55 324.15 L436.35 324.23 L437.14 324.32 L437.94 324.40 L438.74 324.49 L439.54 324.57 L440.33 324.66 L441.13 324.74 L441.93 324.82 L442.72 324.90 L443.52 324.98 L444.32 325.06 L445.12 325.14 L445.91 325.22 L446.71 325.30 L447.51 325.38 L448.31 325.45 L449.11 325.53 L449.90 325.60 L450.70 325.68 L451.50 325.75 L452.30 325.83 L453.10 325.90 L453.89 325.97 L454.69 326.05 L455.49 326.12 L456.29 326.19 L457.09 326.26 L457.89 326.33 L458.68 326.40 L459.48 326.47 L460.28 326.53 L461.08 326.60 L461.88 326.67 L462.68 326.74 L463.48 326.80 L464.27 326.87 L465.07 326.93 L465.87 327.00 L466.67 327.06 L467.47 327.12 L468.27 327.19 L469.07 327.25 L469.87 327.31 L470.67 327.37 L471.47 327.43 L472.26 327.50 L473.06 327.56 L473.86 327.62 L474.66 327.68 L475.46 327.73 L476.26 327.79 L477.06 327.85 L477.86 327.91 L478.66 327.97 L479.46 328.03 L480.26 328.08 L481.06 328.14 L481.86 328.20 L482.66 328.25 L483.46 328.31 L484.26 328.36 L485.05 328.42 L485.85 328.47 L486.65 328.53 L487.45 328.58 L488.25 328.64 L489.05 328.69 L489.85 328.74 L490.65 328.79 L491.45 328.85 L492.25 328.90 L493.05 328.95 L493.85 329.00 L494.65 329.06 L495.45 329.11 L496.25 329.16 L497.05 329.21 L497.85 329.26 L498.65 329.31 L499.45 329.36 L500.25 329.41 L501.05 329.46 L501.85 329.51 L502.65 329.56 L503.45 329.61 L504.25 329.66 L505.05 329.71 L505.85 329.76 L506.65 329.81 L507.45 329.85 L508.25 329.90 L509.05 329.95 L509.85 330.00 L510.65 330.05 L511.45 330.09 L512.25 330.14 L513.05 330.19 L513.85 330.24 L514.65 330.28 L515.45 330.33 L516.25 330.38 L517.05 330.42 L517.85 330.47 L518.65 330.51 L519.45 330.56 L520.25 330.61 L521.05 330.65 L521.85 330.70 L522.65 330.74 L523.45 330.79 L524.25 330.83 L525.05 330.88 L525.85 330.92 L526.65 330.97 L527.45 331.01 L528.25 331.06 L529.05 331.10 L529.85 331.15 L530.65 331.19 L531.45 331.24 L532.25 331.28 L533.05 331.32 L533.86 331.37 L534.66 331.41 L535.46 331.46 L536.26 331.50 L537.06 331.54 L537.86 331.59 L538.66 331.63 L539.46 331.67 L540.26 331.72 L541.06 331.76 L541.86 331.80 L542.66 331.85 L543.46 331.89 L544.26 331.93 L545.06 331.97 L545.86 332.02 L546.66 332.06 L547.46 332.10 L548.26 332.14 L549.06 332.19 L549.86 332.23 L550.66 332.27 L551.46 332.31 L552.26 332.35 L553.06 332.40 L553.86 332.44 L554.66 332.48 L555.46 332.52 L556.26 332.56 L557.06 332.60 L557.87 332.64 L558.67 332.68 L559.47 332.72 L560.27 332.76 L561.07 332.80 L561.87 332.85 L562.67 332.88 L563.47 332.92 L564.27 332.96 L565.07 333.00 L565.87 333.04 L566.67 333.08 L567.47 333.12 L568.27 333.16 L569.07 333.20 L569.87 333.24 L570.67 333.28 L571.47 333.31 L572.27 333.35 L573.08 333.39 L573.88 333.43 L574.68 333.46 L575.48 333.50 L576.28 333.54 L577.08 333.58 L577.88 333.61 L578.68 333.65 L579.48 333.69 L580.28 333.72 L581.08 333.76 L581.88 333.79 L582.68 333.83 L583.48 333.87 L584.28 333.90 L585.08 333.94 L585.89 333.97 L586.69 334.01 L587.49 334.04 L588.29 334.07 L589.09 334.11 L589.89 334.14 L590.69 334.18 L591.49 334.21 L592.29 334.24 L593.09 334.28 L593.89 334.31 L594.69 334.34 L595.49 334.38 L596.30 334.41 L597.10 334.44 L597.90 334.47 L598.70 334.50 L599.50 334.54 L600.30 334.57 L601.10 334.60 L601.90 334.63 L602.70 334.66 L603.50 334.69 L604.30 334.72 L605.10 334.75 L605.91 334.78 L606.71 334.81 L607.51 334.84 L608.31 334.87 L609.11 334.90 L609.91 334.93 L610.71 334.96 L611.51 334.99 L612.31 335.02 L613.11 335.05 L613.92 335.08 L614.72 335.10 L615.52 335.13 L616.32 335.16 L617.12 335.19 L617.92 335.21 L618.72 335.24 L619.52 335.27 L620.32 335.30 L621.12 335.32 L621.93 335.35 L622.73 335.37 L623.53 335.40 L624.33 335.43 L625.13 335.45 L625.93 335.48 L626.73 335.50 L627.53 335.53 L628.33 335.55 L629.13 335.58 L629.94 335.60 L630.74 335.63 L631.54 335.65 L632.34 335.68 L633.14 335.70 L633.94 335.73 L634.74 335.75 L635.54 335.77 L636.34 335.80 L637.15 335.82 L637.95 335.84 L638.75 335.86 L639.55 335.89 L640.35 335.91 L641.15 335.93 L641.95 335.95 L642.75 335.98 L643.56 336.00 L644.36 336.02 L645.16 336.04 L645.96 336.06 L646.76 336.08 L647.56 336.11 L648.36 336.13 L649.16 336.15 L649.96 336.17 L650.77 336.19 L651.57 336.21 L652.37 336.23 L653.17 336.25 L653.97 336.27 L654.77 336.29 L655.57 336.31 L656.37 336.33 L657.18 336.35 L657.98 336.37 L658.78 336.39 L659.58 336.41 L660.38 336.42 L661.18 336.44 L661.98 336.46 L662.78 336.48 L663.59 336.50 L664.39 336.52 L665.19 336.54 L665.99 336.55 L666.79 336.57 L667.59 336.59 L668.39 336.61 L669.19 336.63 L670.00 336.64 L670.80 336.66 L671.60 336.68 L672.40 336.70 L673.20 336.71 L674.00 336.73 L674.80 336.75 L675.60 336.77 L676.41 336.78 L677.21 336.80 L678.01 336.82 L678.81 336.83 L679.61 336.85 L680.41 336.87 L681.21 336.88 L682.02 336.90 L682.82 336.92 L683.62 336.93 L684.42 336.95 L685.22 336.96 L686.02 336.98 L686.82 337.00 L687.62 337.01 L688.43 337.03 L689.23 337.04 L690.03 337.06 L690.83 337.07 L691.63 337.09 L692.43 337.10 L693.23 337.12 L694.04 337.14 L694.84 337.15 L695.64 337.17 L696.44 337.18 L697.24 337.20 L698.04 337.21 L698.84 337.23 L699.64 337.24 L700.45 337.26 L701.25 337.27 L702.05 337.29 L702.85 337.30 L703.65 337.31 L704.45 337.33 L705.25 337.34 L706.06 337.36 L706.86 337.37 L707.66 337.39 L708.46 337.40 L709.26 337.42 L710.06 337.43 L710.86 337.44 L711.66 337.46 L712.47 337.47 L713.27 337.49 L714.07 337.50 L714.87 337.51 L715.67 337.53 L716.47 337.54 L717.27 337.56 L718.08 337.57" stroke="#ff0000" stroke-width="4.2"/>
<path d="M177.04 63.00 L177.17 63.79 L177.31 64.58 L177.45 65.37 L177.59 66.16 L177.73 66.95 L177.86 67.74 L178.00 68.53 L178.14 69.32 L178.28 70.11 L178.42 70.90 L178.56 71.69 L178.71 72.48 L178.85 73.27 L178.99 74.05 L179.13 74.84 L179.27 75.63 L179.42 76.42 L179.56 77.21 L179.71 78.00 L179.85 78.78 L180.00 79.57 L180.14 80.36 L180.29 81.15 L180.44 81.94 L180.58 82.72 L180.73 83.51 L180.88 84.30 L181.03 85.09 L181.18 85.87 L181.33 86.66 L181.48 87.45 L181.63 88.24 L181.78 89.02 L181.94 89.81 L182.09 90.60 L182.24 91.38 L182.40 92.17 L182.55 92.96 L182.71 93.74 L182.87 94.53 L183.02 95.31 L183.18 96.10 L183.34 96.88 L183.50 97.67 L183.66 98.46 L183.82 99.24 L183.99 100.03 L184.15 100.81 L184.31 101.59 L184.48 102.38 L184.64 103.16 L184.81 103.95 L184.98 104.73 L185.14 105.51 L185.31 106.30 L185.48 107.08 L185.65 107.86 L185.82 108.65 L186.00 109.43 L186.17 110.21 L186.35 110.99 L186.52 111.78 L186.70 112.56 L186.88 113.34 L187.05 114.12 L187.23 114.90 L187.42 115.68 L187.60 116.46 L187.78 117.24 L187.97 118.02 L188.15 118.80 L188.34 119.58 L188.53 120.36 L188.72 121.14 L188.91 121.92 L189.10 122.70 L189.29 123.47 L189.49 124.25 L189.69 125.03 L189.88 125.81 L190.08 126.58 L190.28 127.36 L190.48 128.13 L190.69 128.91 L190.89 129.68 L191.10 130.46 L191.31 131.23 L191.51 132.01 L191.72 132.78 L191.94 133.55 L192.15 134.33 L192.37 135.10 L192.58 135.87 L192.80 136.64 L193.02 137.41 L193.24 138.18 L193.47 138.95 L193.69 139.72 L193.92 140.49 L194.15 141.26 L194.38 142.02 L194.61 142.79 L194.84 143.56 L195.08 144.32 L195.31 145.09 L195.55 145.85 L195.79 146.62 L196.04 147.38 L196.28 148.15 L196.53 148.91 L196.78 149.67 L197.03 150.43 L197.28 151.19 L197.54 151.95 L197.80 152.71 L198.06 153.47 L198.32 154.23 L198.58 154.98 L198.85 155.74 L199.12 156.49 L199.39 157.25 L199.66 158.00 L199.93 158.75 L200.21 159.51 L200.49 160.26 L200.77 161.01 L201.06 161.76 L201.35 162.51 L201.64 163.25 L201.93 164.00 L202.22 164.74 L202.52 165.49 L202.82 166.23 L203.12 166.97 L203.43 167.71 L203.74 168.45 L204.05 169.19 L204.36 169.93 L204.67 170.67 L204.99 171.40 L205.32 172.14 L205.64 172.87 L205.97 173.60 L206.30 174.33 L206.63 175.06 L206.97 175.79 L207.31 176.51 L207.65 177.24 L208.00 177.96 L208.34 178.68 L208.70 179.40 L209.05 180.12 L209.41 180.84 L209.77 181.55 L210.13 182.27 L210.50 182.98 L210.87 183.69 L211.25 184.40 L211.63 185.11 L212.01 185.81 L212.39 186.52 L212.78 187.22 L213.17 187.92 L213.56 188.61 L213.96 189.31 L214.36 190.00 L214.77 190.70 L215.18 191.39 L215.59 192.07 L216.00 192.76 L216.42 193.44 L216.84 194.12 L217.27 194.80 L217.70 195.48 L218.13 196.15 L218.57 196.83 L219.01 197.50 L219.45 198.16 L219.90 198.83 L220.35 199.49 L220.80 200.15 L221.26 200.81 L221.72 201.47 L222.18 202.12 L222.65 202.77 L223.12 203.42 L223.60 204.06 L224.08 204.71 L224.56 205.35 L225.05 205.98 L225.54 206.62 L226.03 207.25 L226.53 207.88 L227.03 208.50 L227.53 209.13 L228.04 209.75 L228.55 210.36 L229.07 210.98 L229.58 211.59 L230.11 212.20 L230.63 212.80 L231.16 213.40 L231.69 214.00 L232.23 214.60 L232.77 215.19 L233.31 215.78 L233.86 216.37 L234.40 216.95 L234.96 217.53 L235.51 218.11 L236.07 218.69 L236.64 219.26 L237.20 219.82 L237.77 220.39 L238.34 220.95 L238.92 221.51 L239.50 222.06 L240.08 222.61 L240.66 223.16 L241.25 223.71 L241.84 224.25 L242.44 224.79 L243.03 225.32 L243.63 225.85 L244.23 226.38 L244.84 226.91 L245.44 227.43 L246.05 227.95 L246.67 228.47 L247.28 228.98 L247.90 229.50 L248.52 230.00 L249.14 230.51 L249.76 231.01 L250.39 231.51 L251.02 232.01 L251.65 232.50 L252.28 233.00 L252.92 233.49 L253.55 233.97 L254.19 234.46 L254.83 234.94 L255.47 235.42 L256.12 235.90 L256.76 236.37 L257.41 236.84 L258.06 237.31 L258.71 237.78 L259.36 238.25 L260.02 238.71 L260.67 239.17 L261.33 239.63 L261.99 240.09 L262.65 240.54 L263.31 240.99 L263.97 241.45 L264.64 241.89 L265.30 242.34 L265.97 242.79 L266.64 243.23 L267.30 243.67 L267.97 244.11 L268.65 244.55 L269.32 244.98 L269.99 245.42 L270.67 245.85 L271.34 246.28 L272.02 246.71 L272.70 247.13 L273.38 247.56 L274.06 247.98 L274.74 248.40 L275.42 248.82 L276.11 249.24 L276.79 249.66 L277.48 250.07 L278.16 250.49 L278.85 250.90 L279.54 251.31 L280.23 251.72 L280.92 252.13 L281.61 252.54 L282.30 252.94 L282.99 253.35 L283.68 253.75 L284.38 254.15 L285.07 254.55 L285.77 254.95 L286.46 255.35 L287.16 255.75 L287.85 256.15 L288.55 256.54 L289.25 256.94 L289.95 257.33 L290.65 257.72 L291.35 258.11 L292.05 258.50 L292.75 258.89 L293.45 259.28 L294.15 259.67 L294.85 260.05 L295.55 260.44 L296.26 260.82 L296.96 261.21 L297.67 261.59 L298.37 261.97 L299.07 262.35 L299.78 262.73 L300.49 263.11 L301.19 263.49 L301.90 263.87 L302.61 264.25 L303.31 264.62 L304.02 265.00 L304.73 265.37 L305.44 265.74 L306.15 266.12 L306.86 266.49 L307.57 266.86 L308.28 267.23 L308.99 267.60 L309.70 267.97 L310.42 268.34 L311.13 268.70 L311.84 269.07 L312.55 269.44 L313.27 269.80 L313.98 270.16 L314.70 270.53 L315.41 270.89 L316.13 271.25 L316.84 271.61 L317.56 271.97 L318.28 272.33 L319.00 272.68 L319.71 273.04 L320.43 273.39 L321.15 273.75 L321.87 274.10 L322.59 274.45 L323.31 274.80 L324.03 275.15 L324.76 275.50 L325.48 275.84 L326.20 276.19 L326.93 276.53 L327.65 276.88 L328.38 277.22 L329.10 277.56 L329.83 277.90 L330.56 278.23 L331.28 278.57 L332.01 278.90 L332.74 279.24 L333.47 279.57 L334.20 279.90 L334.93 280.23 L335.66 280.56 L336.39 280.88 L337.13 281.21 L337.86 281.53 L338.59 281.85 L339.33 282.18 L340.06 282.49 L340.80 282.81 L341.54 283.13 L342.27 283.44 L343.01 283.76 L343.75 284.07 L344.49 284.38 L345.23 284.69 L345.97 285.00 L346.71 285.30 L347.45 285.61 L348.19 285.91 L348.93 286.21 L349.68 286.51 L350.42 286.81 L351.17 287.10 L351.91 287.40 L352.66 287.69 L353.40 287.98 L354.15 288.27 L354.90 288.56 L355.65 288.85 L356.40 289.13 L357.15 289.41 L357.90 289.70 L358.65 289.98 L359.40 290.25 L360.15 290.53 L360.90 290.81 L361.66 291.08 L362.41 291.35 L363.17 291.62 L363.92 291.89 L364.68 292.16 L365.43 292.42 L366.19 292.69 L366.95 292.95 L367.71 293.21 L368.46 293.47 L369.22 293.72 L369.98 293.98 L370.74 294.23 L371.51 294.48 L372.27 294.73 L373.03 294.98 L373.79 295.23 L374.55 295.47 L375.32 295.72 L376.08 295.96 L376.85 296.20 L377.61 296.44 L378.38 296.67 L379.14 296.91 L379.91 297.14 L380.68 297.38 L381.44 297.61 L382.21 297.83 L382.98 298.06 L383.75 298.29 L384.52 298.51 L385.29 298.73 L386.06 298.96 L386.83 299.17 L387.60 299.39 L388.37 299.61 L389.15 299.82 L389.92 300.04 L390.69 300.25 L391.46 300.46 L392.24 300.67 L393.01 300.88 L393.79 301.08 L394.56 301.29 L395.34 301.49 L396.11 301.69 L396.89 301.89 L397.67 302.09 L398.44 302.29 L399.22 302.49 L400.00 302.68 L400.77 302.88 L401.55 303.07 L402.33 303.26 L403.11 303.45 L403.89 303.64 L404.67 303.83 L405.45 304.01 L406.23 304.20 L407.01 304.38 L407.79 304.56 L408.57 304.74 L409.35 304.93 L410.13 305.10 L410.91 305.28 L411.69 305.46 L412.48 305.63 L413.26 305.81 L414.04 305.98 L414.82 306.15 L415.61 306.32 L416.39 306.49 L417.17 306.66 L417.96 306.83 L418.74 306.99 L419.53 307.16 L420.31 307.32 L421.09 307.48 L421.88 307.65 L422.66 307.81 L423.45 307.97 L424.24 308.13 L425.02 308.28 L425.81 308.44 L426.59 308.60 L427.38 308.75 L428.17 308.90 L428.95 309.06 L429.74 309.21 L430.53 309.36 L431.32 309.51 L432.10 309.66 L432.89 309.80 L433.68 309.95 L434.47 310.10 L435.26 310.24 L436.04 310.38 L436.83 310.53 L437.62 310.67 L438.41 310.81 L439.20 310.95 L439.99 311.09 L440.78 311.23 L441.57 311.36 L442.36 311.50 L443.15 311.64 L443.94 311.77 L444.73 311.90 L445.52 312.04 L446.31 312.17 L447.10 312.30 L447.89 312.43 L448.68 312.56 L449.47 312.69 L450.26 312.82 L451.05 312.94 L451.85 313.07 L452.64 313.20 L453.43 313.32 L454.22 313.45 L455.01 313.57 L455.80 313.69 L456.60 313.81 L457.39 313.93 L458.18 314.05 L458.97 314.17 L459.77 314.29 L460.56 314.41 L461.35 314.53 L462.15 314.64 L462.94 314.76 L463.73 314.87 L464.53 314.99 L465.32 315.10 L466.11 315.21 L466.91 315.33 L467.70 315.44 L468.49 315.55 L469.29 315.66 L470.08 315.77 L470.87 315.88 L471.67 315.98 L472.46 316.09 L473.26 316.20 L474.05 316.30 L474.85 316.41 L475.64 316.51 L476.44 316.62 L477.23 316.72 L478.03 316.83 L478.82 316.93 L479.62 317.03 L480.41 317.13 L481.21 317.23 L482.00 317.33 L482.80 317.43 L483.59 317.53 L484.39 317.63 L485.18 317.73 L485.98 317.82 L486.77 317.92 L487.57 318.02 L488.36 318.11 L489.16 318.21 L489.96 318.30 L490.75 318.40 L491.55 318.49 L492.34 318.59 L493.14 318.68 L493.94 318.77 L494.73 318.86 L495.53 318.95 L496.32 319.04 L497.12 319.13 L497.92 319.22 L498.71 319.31 L499.51 319.40 L500.31 319.49 L501.10 319.58 L501.90 319.67 L502.70 319.75 L503.49 319.84 L504.29 319.93 L505.09 320.01 L505.88 320.10 L506.68 320.18 L507.48 320.27 L508.28 320.35 L509.07 320.43 L509.87 320.52 L510.67 320.60 L511.46 320.68 L512.26 320.76 L513.06 320.84 L513.86 320.93 L514.65 321.01 L515.45 321.09 L516.25 321.17 L517.05 321.25 L517.84 321.33 L518.64 321.40 L519.44 321.48 L520.24 321.56 L521.03 321.64 L521.83 321.72 L522.63 321.79 L523.43 321.87 L524.23 321.95 L525.02 322.02 L525.82 322.10 L526.62 322.17 L527.42 322.25 L528.21 322.32 L529.01 322.40 L529.81 322.47 L530.61 322.54 L531.41 322.62 L532.21 322.69 L533.00 322.76 L533.80 322.83 L534.60 322.90 L535.40 322.98 L536.20 323.05 L536.99 323.12 L537.79 323.19 L538.59 323.26 L539.39 323.33 L540.19 323.40 L540.99 323.47 L541.79 323.54 L542.58 323.61 L543.38 323.67 L544.18 323.74 L544.98 323.81 L545.78 323.88 L546.58 323.94 L547.38 324.01 L548.17 324.08 L548.97 324.14 L549.77 324.21 L550.57 324.28 L551.37 324.34 L552.17 324.41 L552.97 324.47 L553.77 324.54 L554.56 324.60 L555.36 324.66 L556.16 324.73 L556.96 324.79 L557.76 324.85 L558.56 324.92 L559.36 324.98 L560.16 325.04 L560.96 325.10 L561.76 325.17 L562.55 325.23 L563.35 325.29 L564.15 325.35 L564.95 325.41 L565.75 325.47 L566.55 325.53 L567.35 325.59 L568.15 325.65 L568.95 325.71 L569.75 325.77 L570.55 325.83 L571.35 325.89 L572.15 325.95 L572.94 326.00 L573.74 326.06 L574.54 326.12 L575.34 326.18 L576.14 326.23 L576.94 326.29 L577.74 326.35 L578.54 326.40 L579.34 326.46 L580.14 326.52 L580.94 326.57 L581.74 326.63 L582.54 326.68 L583.34 326.74 L584.14 326.79 L584.94 326.85 L585.74 326.90 L586.54 326.96 L587.34 327.01 L588.14 327.06 L588.94 327.12 L589.74 327.17 L590.53 327.22 L591.33 327.27 L592.13 327.33 L592.93 327.38 L593.73 327.43 L594.53 327.48 L595.33 327.53 L596.13 327.59 L596.93 327.64 L597.73 327.69 L598.53 327.74 L599.33 327.79 L600.13 327.84 L600.93 327.89 L601.73 327.94 L602.53 327.99 L603.33 328.04 L604.13 328.09 L604.93 328.14 L605.73 328.18 L606.53 328.23 L607.33 328.28 L608.13 328.33 L608.93 328.38 L609.73 328.42 L610.53 328.47 L611.33 328.52 L612.13 328.57 L612.93 328.61 L613.73 328.66 L614.53 328.70 L615.33 328.75 L616.13 328.80 L616.93 328.84 L617.73 328.89 L618.53 328.93 L619.33 328.98 L620.13 329.02 L620.93 329.07 L621.73 329.11 L622.54 329.15 L623.34 329.20 L624.14 329.24 L624.94 329.29 L625.74 329.33 L626.54 329.37 L627.34 329.41 L628.14 329.46 L628.94 329.50 L629.74 329.54 L630.54 329.58 L631.34 329.62 L632.14 329.67 L632.94 329.71 L633.74 329.75 L634.54 329.79 L635.34 329.83 L636.14 329.87 L636.94 329.91 L637.74 329.95 L638.54 329.99 L639.34 330.03 L640.14 330.07 L640.94 330.11 L641.74 330.15 L642.55 330.18 L643.35 330.22 L644.15 330.26 L644.95 330.30 L645.75 330.34 L646.55 330.37 L647.35 330.41 L648.15 330.45 L648.95 330.48 L649.75 330.52 L650.55 330.56 L651.35 330.59 L652.15 330.63 L652.95 330.67 L653.75 330.70 L654.55 330.74 L655.36 330.77 L656.16 330.81 L656.96 330.84 L657.76 330.88 L658.56 330.91 L659.36 330.95 L660.16 330.98 L660.96 331.02 L661.76 331.05 L662.56 331.08 L663.36 331.12 L664.16 331.15 L664.96 331.19 L665.76 331.22 L666.57 331.25 L667.37 331.28 L668.17 331.32 L668.97 331.35 L669.77 331.38 L670.57 331.42 L671.37 331.45 L672.17 331.48 L672.97 331.51 L673.77 331.54 L674.57 331.58 L675.37 331.61 L676.18 331.64 L676.98 331.67 L677.78 331.70 L678.58 331.73 L679.38 331.76 L680.18 331.79 L680.98 331.82 L681.78 331.85 L682.58 331.88 L683.38 331.91 L684.18 331.95 L684.98 331.98 L685.79 332.00 L686.59 332.03 L687.39 332.06 L688.19 332.09 L688.99 332.12 L689.79 332.15 L690.59 332.18 L691.39 332.21 L692.19 332.24 L692.99 332.27 L693.80 332.30 L694.60 332.33 L695.40 332.35 L696.20 332.38 L697.00 332.41 L697.80 332.44 L698.60 332.47 L699.40 332.50 L700.20 332.52 L701.00 332.55 L701.80 332.58 L702.61 332.61 L703.41 332.63 L704.21 332.66 L705.01 332.69 L705.81 332.72 L706.61 332.74 L707.41 332.77 L708.21 332.80 L709.01 332.82 L709.81 332.85 L710.62 332.88 L711.42 332.90 L712.22 332.93 L713.02 332.96 L713.82 332.98 L714.62 333.01 L715.42 333.04 L716.22 333.06 L717.02 333.09 L717.83 333.11" stroke="#00ff00" stroke-width="4.2"/>
<path d="M158.50 56.50 L158.59 57.29 L158.69 58.09 L158.78 58.88 L158.88 59.68 L158.97 60.47 L159.07 61.27 L159.17 62.07 L159.26 62.86 L159.36 63.66 L159.46 64.45 L159.56 65.25 L159.65 66.04 L159.75 66.84 L159.85 67.63 L159.95 68.43 L160.05 69.22 L160.15 70.02 L160.25 70.81 L160.36 71.61 L160.46 72.40 L160.56 73.20 L160.66 73.99 L160.77 74.79 L160.87 75.58 L160.98 76.38 L161.08 77.17 L161.19 77.96 L161.29 78.76 L161.40 79.55 L161.51 80.35 L161.62 81.14 L161.72 81.93 L161.83 82.73 L161.94 83.52 L162.05 84.32 L162.16 85.11 L162.27 85.90 L162.38 86.70 L162.49 87.49 L162.61 88.28 L162.72 89.08 L162.83 89.87 L162.95 90.66 L163.06 91.46 L163.18 92.25 L163.29 93.04 L163.41 93.84 L163.52 94.63 L163.64 95.42 L163.76 96.21 L163.88 97.01 L163.99 97.80 L164.11 98.59 L164.23 99.38 L164.35 100.18 L164.47 100.97 L164.60 101.76 L164.72 102.55 L164.84 103.34 L164.96 104.14 L165.09 104.93 L165.21 105.72 L165.34 106.51 L165.46 107.30 L165.59 108.09 L165.72 108.89 L165.84 109.68 L165.97 110.47 L166.10 111.26 L166.23 112.05 L166.36 112.84 L166.49 113.63 L166.62 114.42 L166.75 115.21 L166.88 116.00 L167.02 116.79 L167.15 117.58 L167.29 118.37 L167.42 119.16 L167.56 119.95 L167.69 120.74 L167.83 121.53 L167.97 122.32 L168.10 123.11 L168.24 123.90 L168.38 124.69 L168.52 125.48 L168.66 126.27 L168.81 127.05 L168.95 127.84 L169.09 128.63 L169.24 129.42 L169.38 130.21 L169.53 131.00 L169.67 131.78 L169.82 132.57 L169.97 133.36 L170.12 134.15 L170.27 134.93 L170.42 135.72 L170.57 136.51 L170.72 137.29 L170.87 138.08 L171.03 138.87 L171.18 139.65 L171.34 140.44 L171.50 141.23 L171.65 142.01 L171.81 142.80 L171.97 143.58 L172.14 144.37 L172.30 145.15 L172.46 145.94 L172.63 146.72 L172.79 147.50 L172.96 148.29 L173.13 149.07 L173.30 149.85 L173.47 150.64 L173.64 151.42 L173.81 152.20 L173.99 152.98 L174.16 153.77 L174.34 154.55 L174.52 155.33 L174.70 156.11 L174.88 156.89 L175.06 157.67 L175.24 158.45 L175.43 159.23 L175.61 160.01 L175.80 160.79 L175.99 161.57 L176.18 162.35 L176.38 163.12 L176.57 163.90 L176.77 164.68 L176.96 165.46 L177.16 166.23 L177.36 167.01 L177.57 167.78 L177.77 168.56 L177.98 169.33 L178.18 170.11 L178.39 170.88 L178.60 171.65 L178.82 172.42 L179.03 173.20 L179.25 173.97 L179.47 174.74 L179.69 175.51 L179.92 176.28 L180.14 177.05 L180.37 177.81 L180.60 178.58 L180.83 179.35 L181.07 180.12 L181.30 180.88 L181.54 181.65 L181.78 182.41 L182.02 183.17 L182.27 183.94 L182.52 184.70 L182.77 185.46 L183.02 186.22 L183.27 186.98 L183.53 187.74 L183.79 188.50 L184.05 189.26 L184.31 190.01 L184.58 190.77 L184.85 191.52 L185.12 192.28 L185.39 193.03 L185.67 193.78 L185.95 194.54 L186.23 195.29 L186.51 196.04 L186.80 196.78 L187.09 197.53 L187.38 198.28 L187.67 199.02 L187.96 199.77 L188.26 200.51 L188.56 201.26 L188.87 202.00 L189.17 202.74 L189.48 203.48 L189.79 204.22 L190.11 204.95 L190.42 205.69 L190.74 206.43 L191.06 207.16 L191.39 207.89 L191.71 208.62 L192.04 209.35 L192.38 210.08 L192.71 210.81 L193.05 211.54 L193.39 212.26 L193.74 212.98 L194.09 213.70 L194.44 214.42 L194.80 215.14 L195.16 215.86 L195.52 216.57 L195.89 217.29 L196.26 218.00 L196.63 218.70 L197.01 219.41 L197.39 220.12 L197.78 220.82 L198.17 221.52 L198.56 222.21 L198.96 222.91 L199.37 223.60 L199.77 224.29 L200.19 224.98 L200.61 225.66 L201.03 226.34 L201.46 227.02 L201.89 227.69 L202.33 228.37 L202.77 229.03 L203.22 229.70 L203.67 230.36 L204.13 231.01 L204.60 231.67 L205.07 232.32 L205.54 232.96 L206.03 233.60 L206.52 234.23 L207.01 234.86 L207.51 235.49 L208.02 236.11 L208.53 236.73 L209.05 237.34 L209.58 237.94 L210.11 238.54 L210.65 239.13 L211.19 239.72 L211.75 240.30 L212.31 240.87 L212.87 241.44 L213.44 242.00 L214.02 242.56 L214.61 243.10 L215.20 243.64 L215.80 244.18 L216.41 244.70 L217.02 245.22 L217.64 245.73 L218.26 246.23 L218.89 246.72 L219.53 247.21 L220.17 247.69 L220.82 248.16 L221.47 248.62 L222.13 249.08 L222.80 249.53 L223.47 249.97 L224.14 250.40 L224.82 250.83 L225.50 251.25 L226.19 251.66 L226.88 252.07 L227.57 252.47 L228.27 252.86 L228.97 253.25 L229.68 253.63 L230.38 254.01 L231.09 254.38 L231.81 254.74 L232.52 255.11 L233.24 255.46 L233.96 255.82 L234.68 256.17 L235.40 256.51 L236.13 256.85 L236.85 257.19 L237.58 257.53 L238.31 257.86 L239.04 258.19 L239.77 258.52 L240.50 258.85 L241.23 259.18 L241.96 259.50 L242.70 259.82 L243.43 260.14 L244.17 260.47 L244.90 260.79 L245.64 261.11 L246.37 261.42 L247.11 261.74 L247.84 262.06 L248.57 262.38 L249.31 262.70 L250.04 263.02 L250.78 263.34 L251.51 263.66 L252.25 263.99 L252.98 264.31 L253.71 264.63 L254.45 264.96 L255.18 265.28 L255.91 265.61 L256.64 265.93 L257.37 266.26 L258.10 266.59 L258.83 266.92 L259.56 267.25 L260.29 267.59 L261.02 267.92 L261.75 268.25 L262.48 268.59 L263.20 268.93 L263.93 269.27 L264.66 269.60 L265.38 269.94 L266.11 270.29 L266.83 270.63 L267.56 270.97 L268.28 271.31 L269.00 271.66 L269.73 272.00 L270.45 272.35 L271.17 272.70 L271.89 273.04 L272.62 273.39 L273.34 273.74 L274.06 274.09 L274.78 274.43 L275.50 274.78 L276.23 275.13 L276.95 275.48 L277.67 275.83 L278.39 276.18 L279.11 276.53 L279.83 276.87 L280.56 277.22 L281.28 277.57 L282.00 277.92 L282.72 278.26 L283.45 278.61 L284.17 278.95 L284.89 279.30 L285.62 279.64 L286.34 279.98 L287.07 280.32 L287.79 280.66 L288.52 281.00 L289.25 281.33 L289.98 281.67 L290.70 282.00 L291.43 282.34 L292.16 282.67 L292.89 283.00 L293.62 283.33 L294.35 283.65 L295.09 283.98 L295.82 284.30 L296.55 284.62 L297.29 284.95 L298.02 285.26 L298.76 285.58 L299.50 285.90 L300.23 286.21 L300.97 286.52 L301.71 286.83 L302.45 287.14 L303.19 287.45 L303.93 287.75 L304.67 288.05 L305.42 288.35 L306.16 288.65 L306.90 288.95 L307.65 289.25 L308.39 289.54 L309.14 289.84 L309.88 290.13 L310.63 290.42 L311.38 290.71 L312.13 291.00 L312.87 291.29 L313.62 291.57 L314.37 291.85 L315.12 292.14 L315.87 292.42 L316.63 292.69 L317.38 292.97 L318.13 293.24 L318.88 293.52 L319.64 293.79 L320.39 294.06 L321.15 294.32 L321.91 294.59 L322.66 294.85 L323.42 295.11 L324.18 295.37 L324.94 295.63 L325.70 295.88 L326.46 296.13 L327.22 296.38 L327.98 296.63 L328.74 296.88 L329.51 297.12 L330.27 297.36 L331.04 297.60 L331.80 297.84 L332.57 298.08 L333.33 298.31 L334.10 298.54 L334.87 298.77 L335.64 298.99 L336.41 299.22 L337.18 299.44 L337.95 299.66 L338.72 299.87 L339.49 300.09 L340.27 300.30 L341.04 300.51 L341.81 300.72 L342.59 300.92 L343.36 301.12 L344.14 301.32 L344.92 301.52 L345.69 301.72 L346.47 301.91 L347.25 302.11 L348.03 302.30 L348.81 302.48 L349.58 302.67 L350.36 302.85 L351.14 303.04 L351.93 303.22 L352.71 303.40 L353.49 303.57 L354.27 303.75 L355.05 303.92 L355.84 304.09 L356.62 304.26 L357.40 304.43 L358.19 304.60 L358.97 304.76 L359.75 304.93 L360.54 305.09 L361.32 305.25 L362.11 305.41 L362.90 305.56 L363.68 305.72 L364.47 305.87 L365.25 306.03 L366.04 306.18 L366.83 306.33 L367.62 306.48 L368.40 306.62 L369.19 306.77 L369.98 306.91 L370.77 307.06 L371.56 307.20 L372.35 307.34 L373.14 307.48 L373.92 307.62 L374.71 307.75 L375.50 307.89 L376.29 308.03 L377.08 308.16 L377.87 308.29 L378.66 308.42 L379.46 308.55 L380.25 308.68 L381.04 308.81 L381.83 308.94 L382.62 309.06 L383.41 309.19 L384.20 309.31 L385.00 309.43 L385.79 309.56 L386.58 309.68 L387.37 309.80 L388.16 309.92 L388.96 310.04 L389.75 310.15 L390.54 310.27 L391.33 310.39 L392.13 310.50 L392.92 310.62 L393.71 310.73 L394.51 310.84 L395.30 310.96 L396.09 311.07 L396.89 311.18 L397.68 311.29 L398.48 311.40 L399.27 311.51 L400.06 311.62 L400.86 311.73 L401.65 311.83 L402.45 311.94 L403.24 312.05 L404.03 312.15 L404.83 312.26 L405.62 312.36 L406.42 312.47 L407.21 312.57 L408.01 312.67 L408.80 312.78 L409.60 312.88 L410.39 312.98 L411.19 313.08 L411.98 313.18 L412.78 313.29 L413.57 313.39 L414.37 313.49 L415.16 313.59 L415.96 313.69 L416.75 313.78 L417.55 313.88 L418.34 313.98 L419.14 314.08 L419.93 314.18 L420.73 314.28 L421.52 314.37 L422.32 314.47 L423.11 314.57 L423.91 314.66 L424.70 314.76 L425.50 314.85 L426.30 314.95 L427.09 315.04 L427.89 315.14 L428.68 315.23 L429.48 315.32 L430.28 315.42 L431.07 315.51 L431.87 315.60 L432.66 315.69 L433.46 315.79 L434.26 315.88 L435.05 315.97 L435.85 316.06 L436.64 316.15 L437.44 316.24 L438.24 316.32 L439.03 316.41 L439.83 316.50 L440.63 316.59 L441.42 316.67 L442.22 316.76 L443.02 316.84 L443.81 316.93 L444.61 317.01 L445.41 317.10 L446.20 317.18 L447.00 317.26 L447.80 317.35 L448.60 317.43 L449.39 317.51 L450.19 317.59 L450.99 317.67 L451.78 317.75 L452.58 317.83 L453.38 317.91 L454.18 317.99 L454.97 318.06 L455.77 318.14 L456.57 318.22 L457.37 318.29 L458.17 318.37 L458.96 318.44 L459.76 318.52 L460.56 318.59 L461.36 318.66 L462.16 318.73 L462.95 318.81 L463.75 318.88 L464.55 318.95 L465.35 319.02 L466.15 319.09 L466.95 319.16 L467.74 319.22 L468.54 319.29 L469.34 319.36 L470.14 319.43 L470.94 319.50 L471.74 319.56 L472.53 319.63 L473.33 319.69 L474.13 319.76 L474.93 319.83 L475.73 319.89 L476.53 319.96 L477.33 320.02 L478.13 320.08 L478.92 320.15 L479.72 320.21 L480.52 320.28 L481.32 320.34 L482.12 320.40 L482.92 320.46 L483.72 320.53 L484.52 320.59 L485.31 320.65 L486.11 320.71 L486.91 320.77 L487.71 320.84 L488.51 320.90 L489.31 320.96 L490.11 321.02 L490.91 321.08 L491.71 321.14 L492.51 321.20 L493.30 321.26 L494.10 321.32 L494.90 321.38 L495.70 321.45 L496.50 321.51 L497.30 321.57 L498.10 321.63 L498.90 321.69 L499.70 321.75 L500.50 321.81 L501.30 321.87 L502.09 321.93 L502.89 321.99 L503.69 322.05 L504.49 322.11 L505.29 322.17 L506.09 322.23 L506.89 322.28 L507.69 322.34 L508.49 322.40 L509.29 322.46 L510.09 322.52 L510.88 322.58 L511.68 322.64 L512.48 322.70 L513.28 322.76 L514.08 322.82 L514.88 322.88 L515.68 322.94 L516.48 323.00 L517.28 323.06 L518.08 323.12 L518.88 323.19 L519.67 323.25 L520.47 323.31 L521.27 323.37 L522.07 323.43 L522.87 323.49 L523.67 323.55 L524.47 323.61 L525.27 323.67 L526.07 323.73 L526.87 323.79 L527.66 323.85 L528.46 323.91 L529.26 323.98 L530.06 324.04 L530.86 324.10 L531.66 324.16 L532.46 324.22 L533.26 324.28 L534.06 324.35 L534.86 324.41 L535.65 324.47 L536.45 324.53 L537.25 324.60 L538.05 324.66 L538.85 324.72 L539.65 324.78 L540.45 324.85 L541.25 324.91 L542.05 324.97 L542.84 325.04 L543.64 325.10 L544.44 325.16 L545.24 325.23 L546.04 325.29 L546.84 325.35 L547.64 325.42 L548.44 325.48 L549.23 325.54 L550.03 325.61 L550.83 325.67 L551.63 325.73 L552.43 325.80 L553.23 325.86 L554.03 325.92 L554.83 325.99 L555.63 326.05 L556.42 326.11 L557.22 326.18 L558.02 326.24 L558.82 326.30 L559.62 326.37 L560.42 326.43 L561.22 326.49 L562.02 326.55 L562.82 326.62 L563.61 326.68 L564.41 326.74 L565.21 326.80 L566.01 326.86 L566.81 326.93 L567.61 326.99 L568.41 327.05 L569.21 327.11 L570.01 327.17 L570.80 327.23 L571.60 327.29 L572.40 327.35 L573.20 327.41 L574.00 327.47 L574.80 327.53 L575.60 327.59 L576.40 327.65 L577.20 327.71 L578.00 327.77 L578.80 327.83 L579.59 327.89 L580.39 327.95 L581.19 328.01 L581.99 328.06 L582.79 328.12 L583.59 328.18 L584.39 328.24 L585.19 328.29 L585.99 328.35 L586.79 328.41 L587.59 328.46 L588.39 328.52 L589.19 328.58 L589.99 328.63 L590.79 328.69 L591.58 328.74 L592.38 328.80 L593.18 328.85 L593.98 328.90 L594.78 328.96 L595.58 329.01 L596.38 329.06 L597.18 329.12 L597.98 329.17 L598.78 329.22 L599.58 329.27 L600.38 329.33 L601.18 329.38 L601.98 329.43 L602.78 329.48 L603.58 329.53 L604.38 329.58 L605.18 329.63 L605.98 329.68 L606.78 329.73 L607.58 329.78 L608.38 329.83 L609.18 329.87 L609.98 329.92 L610.78 329.97 L611.58 330.02 L612.38 330.06 L613.18 330.11 L613.98 330.16 L614.78 330.20 L615.58 330.25 L616.38 330.30 L617.18 330.34 L617.98 330.39 L618.78 330.43 L619.58 330.47 L620.38 330.52 L621.18 330.56 L621.98 330.60 L622.78 330.65 L623.58 330.69 L624.38 330.73 L625.18 330.77 L625.98 330.82 L626.78 330.86 L627.58 330.90 L628.38 330.94 L629.18 330.98 L629.98 331.02 L630.78 331.06 L631.58 331.10 L632.38 331.14 L633.18 331.18 L633.98 331.21 L634.78 331.25 L635.58 331.29 L636.38 331.33 L637.18 331.36 L637.98 331.40 L638.79 331.44 L639.59 331.47 L640.39 331.51 L641.19 331.54 L641.99 331.58 L642.79 331.61 L643.59 331.65 L644.39 331.68 L645.19 331.72 L645.99 331.75 L646.79 331.78 L647.59 331.82 L648.39 331.85 L649.19 331.88 L649.99 331.91 L650.79 331.94 L651.60 331.98 L652.40 332.01 L653.20 332.04 L654.00 332.07 L654.80 332.10 L655.60 332.13 L656.40 332.16 L657.20 332.19 L658.00 332.22 L658.80 332.25 L659.60 332.28 L660.40 332.31 L661.20 332.34 L662.01 332.36 L662.81 332.39 L663.61 332.42 L664.41 332.45 L665.21 332.48 L666.01 332.50 L666.81 332.53 L667.61 332.56 L668.41 332.58 L669.21 332.61 L670.01 332.64 L670.82 332.66 L671.62 332.69 L672.42 332.71 L673.22 332.74 L674.02 332.77 L674.82 332.79 L675.62 332.82 L676.42 332.84 L677.22 332.87 L678.02 332.89 L678.82 332.92 L679.63 332.94 L680.43 332.97 L681.23 332.99 L682.03 333.01 L682.83 333.04 L683.63 333.06 L684.43 333.08 L685.23 333.11 L686.03 333.13 L686.83 333.15 L687.64 333.18 L688.44 333.20 L689.24 333.22 L690.04 333.25 L690.84 333.27 L691.64 333.29 L692.44 333.31 L693.24 333.34 L694.04 333.36 L694.84 333.38 L695.65 333.40 L696.45 333.42 L697.25 333.45 L698.05 333.47 L698.85 333.49 L699.65 333.51 L700.45 333.53 L701.25 333.55 L702.05 333.58 L702.85 333.60 L703.66 333.62 L704.46 333.64 L705.26 333.66 L706.06 333.68 L706.86 333.70 L707.66 333.72 L708.46 333.74 L709.26 333.76 L710.06 333.78 L710.87 333.80 L711.67 333.82 L712.47 333.84 L713.27 333.87 L714.07 333.89 L714.87 333.91 L715.67 333.93 L716.47 333.95 L717.27 333.97 L718.08 333.99" stroke="#0000ff" stroke-width="4.2"/>
<path d="M162.50 70.55 L162.66 71.34 L162.83 72.12 L163.00 72.90 L163.16 73.69 L163.33 74.47 L163.50 75.25 L163.67 76.04 L163.85 76.82 L164.02 77.60 L164.19 78.38 L164.37 79.16 L164.54 79.95 L164.72 80.73 L164.90 81.51 L165.08 82.29 L165.26 83.07 L165.44 83.85 L165.62 84.63 L165.81 85.41 L165.99 86.19 L166.18 86.97 L166.36 87.75 L166.55 88.53 L166.74 89.31 L166.93 90.09 L167.12 90.86 L167.31 91.64 L167.50 92.42 L167.70 93.20 L167.89 93.97 L168.09 94.75 L168.29 95.53 L168.48 96.30 L168.68 97.08 L168.88 97.86 L169.08 98.63 L169.29 99.41 L169.49 100.18 L169.69 100.96 L169.90 101.73 L170.11 102.51 L170.31 103.28 L170.52 104.05 L170.73 104.83 L170.94 105.60 L171.15 106.37 L171.36 107.15 L171.58 107.92 L171.79 108.69 L172.01 109.46 L172.22 110.23 L172.44 111.01 L172.66 111.78 L172.88 112.55 L173.10 113.32 L173.32 114.09 L173.54 114.86 L173.76 115.63 L173.99 116.40 L174.21 117.17 L174.44 117.94 L174.66 118.70 L174.89 119.47 L175.12 120.24 L175.35 121.01 L175.58 121.78 L175.81 122.54 L176.04 123.31 L176.27 124.08 L176.51 124.84 L176.74 125.61 L176.98 126.37 L177.22 127.14 L177.45 127.90 L177.69 128.67 L177.93 129.43 L178.17 130.20 L178.41 130.96 L178.66 131.73 L178.90 132.49 L179.15 133.25 L179.39 134.02 L179.64 134.78 L179.89 135.54 L180.14 136.30 L180.39 137.06 L180.64 137.82 L180.89 138.58 L181.14 139.34 L181.40 140.10 L181.65 140.86 L181.91 141.62 L182.17 142.38 L182.43 143.14 L182.69 143.90 L182.95 144.65 L183.21 145.41 L183.48 146.17 L183.74 146.92 L184.01 147.68 L184.28 148.43 L184.54 149.19 L184.81 149.94 L185.09 150.70 L185.36 151.45 L185.63 152.20 L185.91 152.96 L186.18 153.71 L186.46 154.46 L186.74 155.21 L187.02 155.96 L187.31 156.71 L187.59 157.46 L187.87 158.21 L188.16 158.96 L188.45 159.71 L188.74 160.45 L189.03 161.20 L189.32 161.94 L189.62 162.69 L189.91 163.43 L190.21 164.18 L190.51 164.92 L190.81 165.67 L191.11 166.41 L191.41 167.15 L191.72 167.89 L192.02 168.63 L192.33 169.37 L192.64 170.11 L192.96 170.85 L193.27 171.58 L193.58 172.32 L193.90 173.06 L194.22 173.79 L194.54 174.53 L194.86 175.26 L195.19 175.99 L195.51 176.72 L195.84 177.46 L196.17 178.19 L196.50 178.91 L196.84 179.64 L197.17 180.37 L197.51 181.10 L197.85 181.82 L198.19 182.55 L198.53 183.27 L198.88 184.00 L199.22 184.72 L199.57 185.44 L199.92 186.16 L200.28 186.88 L200.63 187.60 L200.99 188.32 L201.34 189.03 L201.71 189.75 L202.07 190.46 L202.43 191.18 L202.80 191.89 L203.17 192.60 L203.54 193.31 L203.91 194.02 L204.28 194.73 L204.66 195.44 L205.04 196.14 L205.42 196.85 L205.80 197.55 L206.18 198.26 L206.57 198.96 L206.96 199.66 L207.35 200.36 L207.74 201.06 L208.14 201.75 L208.53 202.45 L208.93 203.15 L209.33 203.84 L209.74 204.53 L210.14 205.22 L210.55 205.91 L210.96 206.60 L211.37 207.29 L211.79 207.97 L212.21 208.66 L212.62 209.34 L213.05 210.02 L213.47 210.70 L213.90 211.38 L214.33 212.06 L214.76 212.73 L215.19 213.41 L215.63 214.08 L216.07 214.75 L216.51 215.42 L216.96 216.08 L217.40 216.75 L217.85 217.41 L218.31 218.07 L218.76 218.73 L219.22 219.39 L219.68 220.04 L220.15 220.69 L220.61 221.35 L221.08 222.00 L221.55 222.64 L222.03 223.29 L222.51 223.93 L222.99 224.57 L223.47 225.21 L223.96 225.84 L224.45 226.48 L224.95 227.11 L225.44 227.74 L225.94 228.37 L226.44 228.99 L226.95 229.61 L227.46 230.23 L227.97 230.85 L228.48 231.46 L229.00 232.08 L229.52 232.68 L230.04 233.29 L230.57 233.90 L231.10 234.50 L231.63 235.10 L232.17 235.69 L232.70 236.29 L233.24 236.88 L233.79 237.46 L234.34 238.05 L234.89 238.63 L235.44 239.21 L236.00 239.79 L236.55 240.36 L237.12 240.93 L237.68 241.50 L238.25 242.07 L238.82 242.63 L239.39 243.19 L239.97 243.75 L240.55 244.30 L241.13 244.85 L241.72 245.40 L242.31 245.94 L242.90 246.48 L243.49 247.02 L244.09 247.55 L244.69 248.09 L245.29 248.61 L245.89 249.14 L246.50 249.66 L247.11 250.18 L247.72 250.70 L248.34 251.21 L248.96 251.72 L249.58 252.23 L250.20 252.73 L250.83 253.23 L251.46 253.73 L252.09 254.23 L252.72 254.72 L253.35 255.20 L253.99 255.69 L254.63 256.17 L255.28 256.65 L255.92 257.13 L256.57 257.60 L257.22 258.07 L257.87 258.53 L258.52 259.00 L259.18 259.46 L259.84 259.91 L260.50 260.37 L261.16 260.82 L261.83 261.26 L262.49 261.71 L263.16 262.15 L263.83 262.59 L264.51 263.02 L265.18 263.45 L265.86 263.88 L266.54 264.31 L267.22 264.73 L267.90 265.15 L268.59 265.56 L269.27 265.98 L269.96 266.39 L270.65 266.79 L271.34 267.20 L272.04 267.60 L272.73 268.00 L273.43 268.39 L274.13 268.79 L274.83 269.18 L275.53 269.56 L276.23 269.95 L276.94 270.33 L277.64 270.71 L278.35 271.09 L279.06 271.46 L279.77 271.83 L280.48 272.20 L281.19 272.57 L281.90 272.93 L282.62 273.30 L283.33 273.66 L284.05 274.01 L284.77 274.37 L285.49 274.72 L286.21 275.08 L286.93 275.42 L287.65 275.77 L288.37 276.12 L289.10 276.46 L289.82 276.80 L290.55 277.14 L291.28 277.48 L292.00 277.81 L292.73 278.15 L293.46 278.48 L294.19 278.81 L294.92 279.14 L295.65 279.46 L296.39 279.79 L297.12 280.11 L297.85 280.43 L298.59 280.75 L299.33 281.07 L300.06 281.38 L300.80 281.70 L301.54 282.01 L302.28 282.32 L303.02 282.62 L303.76 282.93 L304.50 283.24 L305.24 283.54 L305.98 283.84 L306.73 284.14 L307.47 284.44 L308.21 284.73 L308.96 285.03 L309.71 285.32 L310.45 285.61 L311.20 285.90 L311.95 286.19 L312.70 286.47 L313.45 286.76 L314.20 287.04 L314.95 287.32 L315.70 287.60 L316.45 287.87 L317.20 288.15 L317.96 288.42 L318.71 288.69 L319.46 288.96 L320.22 289.23 L320.98 289.49 L321.73 289.76 L322.49 290.02 L323.25 290.28 L324.01 290.54 L324.77 290.79 L325.52 291.05 L326.29 291.30 L327.05 291.55 L327.81 291.80 L328.57 292.05 L329.33 292.29 L330.10 292.54 L330.86 292.78 L331.63 293.02 L332.39 293.26 L333.16 293.49 L333.92 293.72 L334.69 293.96 L335.46 294.19 L336.22 294.42 L336.99 294.64 L337.76 294.87 L338.53 295.09 L339.30 295.31 L340.07 295.53 L340.84 295.75 L341.62 295.96 L342.39 296.18 L343.16 296.39 L343.93 296.60 L344.71 296.81 L345.48 297.01 L346.26 297.22 L347.03 297.42 L347.81 297.62 L348.58 297.83 L349.36 298.02 L350.14 298.22 L350.91 298.42 L351.69 298.61 L352.47 298.80 L353.25 299.00 L354.02 299.19 L354.80 299.38 L355.58 299.56 L356.36 299.75 L357.14 299.93 L357.92 300.12 L358.70 300.30 L359.48 300.48 L360.26 300.66 L361.04 300.84 L361.82 301.02 L362.61 301.19 L363.39 301.37 L364.17 301.54 L364.95 301.72 L365.74 301.89 L366.52 302.06 L367.30 302.23 L368.08 302.40 L368.87 302.56 L369.65 302.73 L370.44 302.90 L371.22 303.06 L372.00 303.22 L372.79 303.39 L373.57 303.55 L374.36 303.71 L375.14 303.87 L375.93 304.03 L376.72 304.18 L377.50 304.34 L378.29 304.50 L379.07 304.65 L379.86 304.81 L380.65 304.96 L381.43 305.11 L382.22 305.27 L383.01 305.42 L383.79 305.57 L384.58 305.72 L385.37 305.87 L386.15 306.02 L386.94 306.16 L387.73 306.31 L388.52 306.45 L389.31 306.60 L390.09 306.74 L390.88 306.89 L391.67 307.03 L392.46 307.17 L393.25 307.31 L394.04 307.45 L394.83 307.59 L395.62 307.73 L396.40 307.87 L397.19 308.01 L397.98 308.15 L398.77 308.28 L399.56 308.42 L400.35 308.55 L401.14 308.69 L401.93 308.82 L402.72 308.95 L403.51 309.09 L404.30 309.22 L405.09 309.35 L405.88 309.48 L406.68 309.61 L407.47 309.74 L408.26 309.87 L409.05 309.99 L409.84 310.12 L410.63 310.25 L411.42 310.37 L412.21 310.50 L413.00 310.62 L413.80 310.75 L414.59 310.87 L415.38 310.99 L416.17 311.12 L416.96 311.24 L417.76 311.36 L418.55 311.48 L419.34 311.60 L420.13 311.72 L420.92 311.84 L421.72 311.96 L422.51 312.07 L423.30 312.19 L424.10 312.31 L424.89 312.42 L425.68 312.54 L426.47 312.65 L427.27 312.77 L428.06 312.88 L428.85 312.99 L429.65 313.11 L430.44 313.22 L431.23 313.33 L432.03 313.44 L432.82 313.55 L433.61 313.66 L434.41 313.77 L435.20 313.88 L436.00 313.98 L436.79 314.09 L437.58 314.20 L438.38 314.30 L439.17 314.41 L439.97 314.51 L440.76 314.62 L441.56 314.72 L442.35 314.82 L443.15 314.92 L443.94 315.03 L444.74 315.13 L445.53 315.23 L446.33 315.33 L447.12 315.42 L447.92 315.52 L448.71 315.62 L449.51 315.72 L450.30 315.81 L451.10 315.91 L451.89 316.01 L452.69 316.10 L453.49 316.19 L454.28 316.29 L455.08 316.38 L455.87 316.47 L456.67 316.56 L457.47 316.66 L458.26 316.75 L459.06 316.84 L459.85 316.93 L460.65 317.01 L461.45 317.10 L462.24 317.19 L463.04 317.28 L463.84 317.36 L464.63 317.45 L465.43 317.53 L466.23 317.62 L467.02 317.70 L467.82 317.79 L468.62 317.87 L469.41 317.95 L470.21 318.03 L471.01 318.12 L471.81 318.20 L472.60 318.28 L473.40 318.36 L474.20 318.44 L474.99 318.52 L475.79 318.60 L476.59 318.68 L477.39 318.75 L478.18 318.83 L478.98 318.91 L479.78 318.99 L480.58 319.06 L481.37 319.14 L482.17 319.22 L482.97 319.29 L483.77 319.37 L484.57 319.44 L485.36 319.52 L486.16 319.59 L486.96 319.66 L487.76 319.74 L488.55 319.81 L489.35 319.88 L490.15 319.96 L490.95 320.03 L491.75 320.10 L492.54 320.17 L493.34 320.24 L494.14 320.31 L494.94 320.38 L495.74 320.46 L496.54 320.53 L497.33 320.60 L498.13 320.67 L498.93 320.73 L499.73 320.80 L500.53 320.87 L501.32 320.94 L502.12 321.01 L502.92 321.08 L503.72 321.15 L504.52 321.21 L505.32 321.28 L506.11 321.35 L506.91 321.42 L507.71 321.48 L508.51 321.55 L509.31 321.62 L510.11 321.68 L510.91 321.75 L511.70 321.82 L512.50 321.88 L513.30 321.95 L514.10 322.01 L514.90 322.08 L515.70 322.14 L516.50 322.21 L517.29 322.27 L518.09 322.34 L518.89 322.40 L519.69 322.47 L520.49 322.53 L521.29 322.59 L522.09 322.66 L522.89 322.72 L523.68 322.78 L524.48 322.85 L525.28 322.91 L526.08 322.97 L526.88 323.04 L527.68 323.10 L528.48 323.16 L529.28 323.23 L530.07 323.29 L530.87 323.35 L531.67 323.41 L532.47 323.47 L533.27 323.54 L534.07 323.60 L534.87 323.66 L535.67 323.72 L536.47 323.78 L537.26 323.84 L538.06 323.91 L538.86 323.97 L539.66 324.03 L540.46 324.09 L541.26 324.15 L542.06 324.21 L542.86 324.27 L543.66 324.33 L544.46 324.39 L545.25 324.45 L546.05 324.51 L546.85 324.57 L547.65 324.63 L548.45 324.69 L549.25 324.75 L550.05 324.81 L550.85 324.87 L551.65 324.93 L552.45 324.99 L553.24 325.05 L554.04 325.11 L554.84 325.17 L555.64 325.23 L556.44 325.28 L557.24 325.34 L558.04 325.40 L558.84 325.46 L559.64 325.52 L560.44 325.57 L561.24 325.63 L562.04 325.69 L562.83 325.74 L563.63 325.80 L564.43 325.86 L565.23 325.92 L566.03 325.97 L566.83 326.03 L567.63 326.08 L568.43 326.14 L569.23 326.20 L570.03 326.25 L570.83 326.31 L571.63 326.36 L572.43 326.42 L573.23 326.47 L574.03 326.53 L574.82 326.58 L575.62 326.64 L576.42 326.69 L577.22 326.74 L578.02 326.80 L578.82 326.85 L579.62 326.90 L580.42 326.96 L581.22 327.01 L582.02 327.06 L582.82 327.12 L583.62 327.17 L584.42 327.22 L585.22 327.27 L586.02 327.32 L586.82 327.38 L587.62 327.43 L588.42 327.48 L589.22 327.53 L590.02 327.58 L590.82 327.63 L591.62 327.68 L592.42 327.73 L593.22 327.78 L594.01 327.83 L594.81 327.88 L595.61 327.93 L596.41 327.98 L597.21 328.03 L598.01 328.08 L598.81 328.12 L599.61 328.17 L600.41 328.22 L601.21 328.27 L602.01 328.32 L602.81 328.36 L603.61 328.41 L604.41 328.46 L605.21 328.51 L606.01 328.55 L606.81 328.60 L607.61 328.64 L608.41 328.69 L609.21 328.74 L610.01 328.78 L610.81 328.83 L611.61 328.87 L612.41 328.92 L613.21 328.96 L614.01 329.01 L614.81 329.05 L615.61 329.10 L616.41 329.14 L617.21 329.19 L618.01 329.23 L618.81 329.27 L619.61 329.32 L620.41 329.36 L621.21 329.40 L622.01 329.45 L622.81 329.49 L623.61 329.53 L624.41 329.57 L625.21 329.62 L626.01 329.66 L626.81 329.70 L627.61 329.74 L628.41 329.78 L629.21 329.83 L630.01 329.87 L630.81 329.91 L631.61 329.95 L632.42 329.99 L633.22 330.03 L634.02 330.07 L634.82 330.11 L635.62 330.15 L636.42 330.19 L637.22 330.23 L638.02 330.27 L638.82 330.31 L639.62 330.35 L640.42 330.39 L641.22 330.43 L642.02 330.47 L642.82 330.51 L643.62 330.54 L644.42 330.58 L645.22 330.62 L646.02 330.66 L646.82 330.70 L647.62 330.73 L648.42 330.77 L649.22 330.81 L650.02 330.85 L650.82 330.88 L651.62 330.92 L652.42 330.96 L653.22 331.00 L654.02 331.03 L654.82 331.07 L655.63 331.11 L656.43 331.14 L657.23 331.18 L658.03 331.21 L658.83 331.25 L659.63 331.29 L660.43 331.32 L661.23 331.36 L662.03 331.39 L662.83 331.43 L663.63 331.46 L664.43 331.50 L665.23 331.53 L666.03 331.57 L666.83 331.60 L667.63 331.64 L668.43 331.67 L669.23 331.70 L670.03 331.74 L670.83 331.77 L671.64 331.81 L672.44 331.84 L673.24 331.87 L674.04 331.91 L674.84 331.94 L675.64 331.97 L676.44 332.01 L677.24 332.04 L678.04 332.07 L678.84 332.10 L679.64 332.14 L680.44 332.17 L681.24 332.20 L682.04 332.23 L682.84 332.27 L683.64 332.30 L684.44 332.33 L685.25 332.36 L686.05 332.39 L686.85 332.43 L687.65 332.46 L688.45 332.49 L689.25 332.52 L690.05 332.55 L690.85 332.58 L691.65 332.61 L692.45 332.64 L693.25 332.67 L694.05 332.70 L694.85 332.73 L695.65 332.76 L696.45 332.79 L697.26 332.83 L698.06 332.86 L698.86 332.89 L699.66 332.91 L700.46 332.94 L701.26 332.97 L702.06 333.00 L702.86 333.03 L703.66 333.06 L704.46 333.09 L705.26 333.12 L706.06 333.15 L706.86 333.18 L707.67 333.21 L708.47 333.24 L709.27 333.26 L710.07 333.29 L710.87 333.32 L711.67 333.35 L712.47 333.38 L713.27 333.41 L714.07 333.43 L714.87 333.46 L715.67 333.49 L716.47 333.52 L717.27 333.55 L718.08 333.57" stroke="#ffff00" stroke-width="4.2"/>
<path d="M177.29 62.80 L177.42 63.59 L177.56 64.38 L177.70 65.17 L177.84 65.96 L177.98 66.75 L178.11 67.54 L178.25 68.33 L178.39 69.12 L178.53 69.91 L178.67 70.70 L178.81 71.49 L178.96 72.28 L179.10 73.07 L179.24 73.85 L179.38 74.64 L179.52 75.43 L179.67 76.22 L179.81 77.01 L179.96 77.80 L180.10 78.58 L180.25 79.37 L180.39 80.16 L180.54 80.95 L180.69 81.74 L180.83 82.52 L180.98 83.31 L181.13 84.10 L181.28 84.89 L181.43 85.67 L181.58 86.46 L181.73 87.25 L181.88 88.04 L182.03 88.82 L182.19 89.61 L182.34 90.40 L182.49 91.18 L182.65 91.97 L182.80 92.76 L182.96 93.54 L183.12 94.33 L183.27 95.11 L183.43 95.90 L183.59 96.68 L183.75 97.47 L183.91 98.26 L184.07 99.04 L184.24 99.83 L184.40 100.61 L184.56 101.39 L184.73 102.18 L184.89 102.96 L185.06 103.75 L185.23 104.53 L185.39 105.31 L185.56 106.10 L185.73 106.88 L185.90 107.66 L186.07 108.45 L186.25 109.23 L186.42 110.01 L186.60 110.79 L186.77 111.58 L186.95 112.36 L187.13 113.14 L187.30 113.92 L187.48 114.70 L187.67 115.48 L187.85 116.26 L188.03 117.04 L188.22 117.82 L188.40 118.60 L188.59 119.38 L188.78 120.16 L188.97 120.94 L189.16 121.72 L189.35 122.50 L189.54 123.27 L189.74 124.05 L189.94 124.83 L190.13 125.61 L190.33 126.38 L190.53 127.16 L190.73 127.93 L190.94 128.71 L191.14 129.48 L191.35 130.26 L191.56 131.03 L191.76 131.81 L191.97 132.58 L192.19 133.35 L192.40 134.13 L192.62 134.90 L192.83 135.67 L193.05 136.44 L193.27 137.21 L193.49 137.98 L193.72 138.75 L193.94 139.52 L194.17 140.29 L194.40 141.06 L194.63 141.82 L194.86 142.59 L195.09 143.36 L195.33 144.12 L195.56 144.89 L195.80 145.65 L196.04 146.42 L196.29 147.18 L196.53 147.95 L196.78 148.71 L197.03 149.47 L197.28 150.23 L197.53 150.99 L197.79 151.75 L198.05 152.51 L198.31 153.27 L198.57 154.03 L198.83 154.78 L199.10 155.54 L199.37 156.29 L199.64 157.05 L199.91 157.80 L200.18 158.55 L200.46 159.31 L200.74 160.06 L201.02 160.81 L201.31 161.56 L201.60 162.31 L201.89 163.05 L202.18 163.80 L202.47 164.54 L202.77 165.29 L203.07 166.03 L203.37 166.77 L203.68 167.51 L203.99 168.25 L204.30 168.99 L204.61 169.73 L204.92 170.47 L205.24 171.20 L205.57 171.94 L205.89 172.67 L206.22 173.40 L206.55 174.13 L206.88 174.86 L207.22 175.59 L207.56 176.31 L207.90 177.04 L208.25 177.76 L208.59 178.48 L208.95 179.20 L209.30 179.92 L209.66 180.64 L210.02 181.35 L210.38 182.07 L210.75 182.78 L211.12 183.49 L211.50 184.20 L211.88 184.91 L212.26 185.61 L212.64 186.32 L213.03 187.02 L213.42 187.72 L213.81 188.41 L214.21 189.11 L214.61 189.80 L215.02 190.50 L215.43 191.19 L215.84 191.87 L216.25 192.56 L216.67 193.24 L217.09 193.92 L217.52 194.60 L217.95 195.28 L218.38 195.95 L218.82 196.63 L219.26 197.30 L219.70 197.96 L220.15 198.63 L220.60 199.29 L221.05 199.95 L221.51 200.61 L221.97 201.27 L222.43 201.92 L222.90 202.57 L223.37 203.22 L223.85 203.86 L224.33 204.51 L224.81 205.15 L225.30 205.78 L225.79 206.42 L226.28 207.05 L226.78 207.68 L227.28 208.30 L227.78 208.93 L228.29 209.55 L228.80 210.16 L229.32 210.78 L229.83 211.39 L230.36 212.00 L230.88 212.60 L231.41 213.20 L231.94 213.80 L232.48 214.40 L233.02 214.99 L233.56 215.58 L234.11 216.17 L234.65 216.75 L235.21 217.33 L235.76 217.91 L236.32 218.49 L236.89 219.06 L237.45 219.62 L238.02 220.19 L238.59 220.75 L239.17 221.31 L239.75 221.86 L240.33 222.41 L240.91 222.96 L241.50 223.51 L242.09 224.05 L242.69 224.59 L243.28 225.12 L243.88 225.65 L244.48 226.18 L245.09 226.71 L245.69 227.23 L246.30 227.75 L246.92 228.27 L247.53 228.78 L248.15 229.30 L248.77 229.80 L249.39 230.31 L250.01 230.81 L250.64 231.31 L251.27 231.81 L251.90 232.30 L252.53 232.80 L253.17 233.29 L253.80 233.77 L254.44 234.26 L255.08 234.74 L255.72 235.22 L256.37 235.70 L257.01 236.17 L257.66 236.64 L258.31 237.11 L258.96 237.58 L259.61 238.05 L260.27 238.51 L260.92 238.97 L261.58 239.43 L262.24 239.89 L262.90 240.34 L263.56 240.79 L264.22 241.25 L264.89 241.69 L265.55 242.14 L266.22 242.59 L266.89 243.03 L267.55 243.47 L268.22 243.91 L268.90 244.35 L269.57 244.78 L270.24 245.22 L270.92 245.65 L271.59 246.08 L272.27 246.51 L272.95 246.93 L273.63 247.36 L274.31 247.78 L274.99 248.20 L275.67 248.62 L276.36 249.04 L277.04 249.46 L277.73 249.87 L278.41 250.29 L279.10 250.70 L279.79 251.11 L280.48 251.52 L281.17 251.93 L281.86 252.34 L282.55 252.74 L283.24 253.15 L283.93 253.55 L284.63 253.95 L285.32 254.35 L286.02 254.75 L286.71 255.15 L287.41 255.55 L288.10 255.95 L288.80 256.34 L289.50 256.74 L290.20 257.13 L290.90 257.52 L291.60 257.91 L292.30 258.30 L293.00 258.69 L293.70 259.08 L294.40 259.47 L295.10 259.85 L295.80 260.24 L296.51 260.62 L297.21 261.01 L297.92 261.39 L298.62 261.77 L299.32 262.15 L300.03 262.53 L300.74 262.91 L301.44 263.29 L302.15 263.67 L302.86 264.05 L303.56 264.42 L304.27 264.80 L304.98 265.17 L305.69 265.54 L306.40 265.92 L307.11 266.29 L307.82 266.66 L308.53 267.03 L309.24 267.40 L309.95 267.77 L310.67 268.14 L311.38 268.50 L312.09 268.87 L312.80 269.24 L313.52 269.60 L314.23 269.96 L314.95 270.33 L315.66 270.69 L316.38 271.05 L317.09 271.41 L317.81 271.77 L318.53 272.13 L319.25 272.48 L319.96 272.84 L320.68 273.19 L321.40 273.55 L322.12 273.90 L322.84 274.25 L323.56 274.60 L324.28 274.95 L325.01 275.30 L325.73 275.64 L326.45 275.99 L327.18 276.33 L327.90 276.68 L328.63 277.02 L329.35 277.36 L330.08 277.70 L330.81 278.03 L331.53 278.37 L332.26 278.70 L332.99 279.04 L333.72 279.37 L334.45 279.70 L335.18 280.03 L335.91 280.36 L336.64 280.68 L337.38 281.01 L338.11 281.33 L338.84 281.65 L339.58 281.98 L340.31 282.29 L341.05 282.61 L341.79 282.93 L342.52 283.24 L343.26 283.56 L344.00 283.87 L344.74 284.18 L345.48 284.49 L346.22 284.80 L346.96 285.10 L347.70 285.41 L348.44 285.71 L349.18 286.01 L349.93 286.31 L350.67 286.61 L351.42 286.90 L352.16 287.20 L352.91 287.49 L353.65 287.78 L354.40 288.07 L355.15 288.36 L355.90 288.65 L356.65 288.93 L357.40 289.21 L358.15 289.50 L358.90 289.78 L359.65 290.05 L360.40 290.33 L361.15 290.61 L361.91 290.88 L362.66 291.15 L363.42 291.42 L364.17 291.69 L364.93 291.96 L365.68 292.22 L366.44 292.49 L367.20 292.75 L367.96 293.01 L368.71 293.27 L369.47 293.52 L370.23 293.78 L370.99 294.03 L371.76 294.28 L372.52 294.53 L373.28 294.78 L374.04 295.03 L374.80 295.27 L375.57 295.52 L376.33 295.76 L377.10 296.00 L377.86 296.24 L378.63 296.47 L379.39 296.71 L380.16 296.94 L380.93 297.18 L381.69 297.41 L382.46 297.63 L383.23 297.86 L384.00 298.09 L384.77 298.31 L385.54 298.53 L386.31 298.76 L387.08 298.97 L387.85 299.19 L388.62 299.41 L389.40 299.62 L390.17 299.84 L390.94 300.05 L391.71 300.26 L392.49 300.47 L393.26 300.68 L394.04 300.88 L394.81 301.09 L395.59 301.29 L396.36 301.49 L397.14 301.69 L397.92 301.89 L398.69 302.09 L399.47 302.29 L400.25 302.48 L401.02 302.68 L401.80 302.87 L402.58 303.06 L403.36 303.25 L404.14 303.44 L404.92 303.63 L405.70 303.81 L406.48 304.00 L407.26 304.18 L408.04 304.36 L408.82 304.54 L409.60 304.73 L410.38 304.90 L411.16 305.08 L411.94 305.26 L412.73 305.43 L413.51 305.61 L414.29 305.78 L415.07 305.95 L415.86 306.12 L416.64 306.29 L417.42 306.46 L418.21 306.63 L418.99 306.79 L419.78 306.96 L420.56 307.12 L421.34 307.28 L422.13 307.45 L422.91 307.61 L423.70 307.77 L424.49 307.93 L425.27 308.08 L426.06 308.24 L426.84 308.40 L427.63 308.55 L428.42 308.70 L429.20 308.86 L429.99 309.01 L430.78 309.16 L431.57 309.31 L432.35 309.46 L433.14 309.60 L433.93 309.75 L434.72 309.90 L435.51 310.04 L436.29 310.18 L437.08 310.33 L437.87 310.47 L438.66 310.61 L439.45 310.75 L440.24 310.89 L441.03 311.03 L441.82 311.16 L442.61 311.30 L443.40 311.44 L444.19 311.57 L444.98 311.70 L445.77 311.84 L446.56 311.97 L447.35 312.10 L448.14 312.23 L448.93 312.36 L449.72 312.49 L450.51 312.62 L451.30 312.74 L452.10 312.87 L452.89 313.00 L453.68 313.12 L454.47 313.25 L455.26 313.37 L456.05 313.49 L456.85 313.61 L457.64 313.73 L458.43 313.85 L459.22 313.97 L460.02 314.09 L460.81 314.21 L461.60 314.33 L462.40 314.44 L463.19 314.56 L463.98 314.67 L464.78 314.79 L465.57 314.90 L466.36 315.01 L467.16 315.13 L467.95 315.24 L468.74 315.35 L469.54 315.46 L470.33 315.57 L471.12 315.68 L471.92 315.78 L472.71 315.89 L473.51 316.00 L474.30 316.10 L475.10 316.21 L475.89 316.31 L476.69 316.42 L477.48 316.52 L478.28 316.63 L479.07 316.73 L479.87 316.83 L480.66 316.93 L481.46 317.03 L482.25 317.13 L483.05 317.23 L483.84 317.33 L484.64 317.43 L485.43 317.53 L486.23 317.62 L487.02 317.72 L487.82 317.82 L488.61 317.91 L489.41 318.01 L490.21 318.10 L491.00 318.20 L491.80 318.29 L492.59 318.39 L493.39 318.48 L494.19 318.57 L494.98 318.66 L495.78 318.75 L496.57 318.84 L497.37 318.93 L498.17 319.02 L498.96 319.11 L499.76 319.20 L500.56 319.29 L501.35 319.38 L502.15 319.47 L502.95 319.55 L503.74 319.64 L504.54 319.73 L505.34 319.81 L506.13 319.90 L506.93 319.98 L507.73 320.07 L508.53 320.15 L509.32 320.23 L510.12 320.32 L510.92 320.40 L511.71 320.48 L512.51 320.56 L513.31 320.64 L514.11 320.73 L514.90 320.81 L515.70 320.89 L516.50 320.97 L517.30 321.05 L518.09 321.13 L518.89 321.20 L519.69 321.28 L520.49 321.36 L521.28 321.44 L522.08 321.52 L522.88 321.59 L523.68 321.67 L524.48 321.75 L525.27 321.82 L526.07 321.90 L526.87 321.97 L527.67 322.05 L528.46 322.12 L529.26 322.20 L530.06 322.27 L530.86 322.34 L531.66 322.42 L532.46 322.49 L533.25 322.56 L534.05 322.63 L534.85 322.70 L535.65 322.78 L536.45 322.85 L537.24 322.92 L538.04 322.99 L538.84 323.06 L539.64 323.13 L540.44 323.20 L541.24 323.27 L542.04 323.34 L542.83 323.41 L543.63 323.47 L544.43 323.54 L545.23 323.61 L546.03 323.68 L546.83 323.74 L547.63 323.81 L548.42 323.88 L549.22 323.94 L550.02 324.01 L550.82 324.08 L551.62 324.14 L552.42 324.21 L553.22 324.27 L554.02 324.34 L554.81 324.40 L555.61 324.46 L556.41 324.53 L557.21 324.59 L558.01 324.65 L558.81 324.72 L559.61 324.78 L560.41 324.84 L561.21 324.90 L562.01 324.97 L562.80 325.03 L563.60 325.09 L564.40 325.15 L565.20 325.21 L566.00 325.27 L566.80 325.33 L567.60 325.39 L568.40 325.45 L569.20 325.51 L570.00 325.57 L570.80 325.63 L571.60 325.69 L572.40 325.75 L573.19 325.80 L573.99 325.86 L574.79 325.92 L575.59 325.98 L576.39 326.03 L577.19 326.09 L577.99 326.15 L578.79 326.20 L579.59 326.26 L580.39 326.32 L581.19 326.37 L581.99 326.43 L582.79 326.48 L583.59 326.54 L584.39 326.59 L585.19 326.65 L585.99 326.70 L586.79 326.76 L587.59 326.81 L588.39 326.86 L589.19 326.92 L589.99 326.97 L590.78 327.02 L591.58 327.07 L592.38 327.13 L593.18 327.18 L593.98 327.23 L594.78 327.28 L595.58 327.33 L596.38 327.39 L597.18 327.44 L597.98 327.49 L598.78 327.54 L599.58 327.59 L600.38 327.64 L601.18 327.69 L601.98 327.74 L602.78 327.79 L603.58 327.84 L604.38 327.89 L605.18 327.94 L605.98 327.98 L606.78 328.03 L607.58 328.08 L608.38 328.13 L609.18 328.18 L609.98 328.22 L610.78 328.27 L611.58 328.32 L612.38 328.37 L613.18 328.41 L613.98 328.46 L614.78 328.50 L615.58 328.55 L616.38 328.60 L617.18 328.64 L617.98 328.69 L618.78 328.73 L619.58 328.78 L620.38 328.82 L621.18 328.87 L621.98 328.91 L622.79 328.95 L623.59 329.00 L624.39 329.04 L625.19 329.09 L625.99 329.13 L626.79 329.17 L627.59 329.21 L628.39 329.26 L629.19 329.30 L629.99 329.34 L630.79 329.38 L631.59 329.42 L632.39 329.47 L633.19 329.51 L633.99 329.55 L634.79 329.59 L635.59 329.63 L636.39 329.67 L637.19 329.71 L637.99 329.75 L638.79 329.79 L639.59 329.83 L640.39 329.87 L641.19 329.91 L641.99 329.95 L642.80 329.98 L643.60 330.02 L644.40 330.06 L645.20 330.10 L646.00 330.14 L646.80 330.17 L647.60 330.21 L648.40 330.25 L649.20 330.28 L650.00 330.32 L650.80 330.36 L651.60 330.39 L652.40 330.43 L653.20 330.47 L654.00 330.50 L654.80 330.54 L655.61 330.57 L656.41 330.61 L657.21 330.64 L658.01 330.68 L658.81 330.71 L659.61 330.75 L660.41 330.78 L661.21 330.82 L662.01 330.85 L662.81 330.88 L663.61 330.92 L664.41 330.95 L665.21 330.99 L666.01 331.02 L666.82 331.05 L667.62 331.08 L668.42 331.12 L669.22 331.15 L670.02 331.18 L670.82 331.22 L671.62 331.25 L672.42 331.28 L673.22 331.31 L674.02 331.34 L674.82 331.38 L675.62 331.41 L676.43 331.44 L677.23 331.47 L678.03 331.50 L678.83 331.53 L679.63 331.56 L680.43 331.59 L681.23 331.62 L682.03 331.65 L682.83 331.68 L683.63 331.71 L684.43 331.75 L685.23 331.78 L686.04 331.80 L686.84 331.83 L687.64 331.86 L688.44 331.89 L689.24 331.92 L690.04 331.95 L690.84 331.98 L691.64 332.01 L692.44 332.04 L693.24 332.07 L694.05 332.10 L694.85 332.13 L695.65 332.15 L696.45 332.18 L697.25 332.21 L698.05 332.24 L698.85 332.27 L699.65 332.30 L700.45 332.32 L701.25 332.35 L702.05 332.38 L702.86 332.41 L703.66 332.43 L704.46 332.46 L705.26 332.49 L706.06 332.52 L706.86 332.54 L707.66 332.57 L708.46 332.60 L709.26 332.62 L710.06 332.65 L710.87 332.68 L711.67 332.70 L712.47 332.73 L713.27 332.76 L714.07 332.78 L714.87 332.81 L715.67 332.84 L716.47 332.86 L717.27 332.89 L718.08 332.91" stroke="#bc8f8f" stroke-width="4.2"/>
<path d="M165.38 32.18 L165.44 32.98 L165.50 33.77 L165.56 34.57 L165.62 35.37 L165.68 36.17 L165.74 36.97 L165.80 37.77 L165.86 38.57 L165.93 39.37 L165.99 40.17 L166.05 40.97 L166.11 41.77 L166.17 42.56 L166.23 43.36 L166.30 44.16 L166.36 44.96 L166.42 45.76 L166.49 46.56 L166.55 47.36 L166.61 48.16 L166.68 48.96 L166.74 49.76 L166.80 50.55 L166.87 51.35 L166.93 52.15 L167.00 52.95 L167.06 53.75 L167.13 54.55 L167.19 55.35 L167.26 56.15 L167.32 56.94 L167.39 57.74 L167.46 58.54 L167.52 59.34 L167.59 60.14 L167.66 60.94 L167.72 61.74 L167.79 62.53 L167.86 63.33 L167.93 64.13 L167.99 64.93 L168.06 65.73 L168.13 66.53 L168.20 67.33 L168.27 68.12 L168.34 68.92 L168.41 69.72 L168.48 70.52 L168.55 71.32 L168.62 72.12 L168.69 72.91 L168.76 73.71 L168.83 74.51 L168.90 75.31 L168.97 76.11 L169.05 76.91 L169.12 77.70 L169.19 78.50 L169.26 79.30 L169.34 80.10 L169.41 80.90 L169.48 81.69 L169.56 82.49 L169.63 83.29 L169.71 84.09 L169.78 84.89 L169.86 85.68 L169.93 86.48 L170.01 87.28 L170.08 88.08 L170.16 88.87 L170.24 89.67 L170.31 90.47 L170.39 91.27 L170.47 92.07 L170.55 92.86 L170.62 93.66 L170.70 94.46 L170.78 95.26 L170.86 96.05 L170.94 96.85 L171.02 97.65 L171.10 98.45 L171.18 99.24 L171.26 100.04 L171.34 100.84 L171.42 101.63 L171.51 102.43 L171.59 103.23 L171.67 104.03 L171.75 104.82 L171.84 105.62 L171.92 106.42 L172.00 107.21 L172.09 108.01 L172.17 108.81 L172.26 109.60 L172.34 110.40 L172.43 111.20 L172.52 112.00 L172.60 112.79 L172.69 113.59 L172.78 114.39 L172.87 115.18 L172.95 115.98 L173.04 116.77 L173.13 117.57 L173.22 118.37 L173.31 119.16 L173.40 119.96 L173.49 120.76 L173.58 121.55 L173.68 122.35 L173.77 123.14 L173.86 123.94 L173.95 124.74 L174.05 125.53 L174.14 126.33 L174.24 127.12 L174.33 127.92 L174.43 128.72 L174.52 129.51 L174.62 130.31 L174.72 131.10 L174.81 131.90 L174.91 132.69 L175.01 133.49 L175.11 134.28 L175.21 135.08 L175.31 135.87 L175.41 136.67 L175.51 137.46 L175.61 138.26 L175.71 139.05 L175.81 139.85 L175.92 140.64 L176.02 141.44 L176.13 142.23 L176.23 143.03 L176.34 143.82 L176.44 144.62 L176.55 145.41 L176.66 146.21 L176.76 147.00 L176.87 147.79 L176.98 148.59 L177.09 149.38 L177.20 150.18 L177.31 150.97 L177.42 151.76 L177.54 152.56 L177.65 153.35 L177.76 154.14 L177.88 154.94 L177.99 155.73 L178.11 156.52 L178.22 157.31 L178.34 158.11 L178.46 158.90 L178.58 159.69 L178.69 160.49 L178.81 161.28 L178.93 162.07 L179.06 162.86 L179.18 163.65 L179.30 164.45 L179.42 165.24 L179.55 166.03 L179.67 166.82 L179.80 167.61 L179.92 168.40 L180.05 169.20 L180.18 169.99 L180.31 170.78 L180.44 171.57 L180.57 172.36 L180.70 173.15 L180.83 173.94 L180.96 174.73 L181.10 175.52 L181.23 176.31 L181.37 177.10 L181.50 177.89 L181.64 178.68 L181.78 179.47 L181.92 180.26 L182.06 181.05 L182.20 181.84 L182.34 182.63 L182.48 183.42 L182.62 184.20 L182.77 184.99 L182.91 185.78 L183.06 186.57 L183.21 187.36 L183.36 188.14 L183.51 188.93 L183.66 189.72 L183.81 190.50 L183.96 191.29 L184.12 192.08 L184.27 192.86 L184.43 193.65 L184.58 194.44 L184.74 195.22 L184.90 196.01 L185.06 196.79 L185.22 197.58 L185.39 198.36 L185.55 199.15 L185.72 199.93 L185.88 200.71 L186.05 201.50 L186.22 202.28 L186.39 203.06 L186.56 203.85 L186.73 204.63 L186.91 205.41 L187.08 206.19 L187.26 206.98 L187.44 207.76 L187.62 208.54 L187.80 209.32 L187.98 210.10 L188.17 210.88 L188.35 211.66 L188.54 212.44 L188.73 213.22 L188.92 213.99 L189.11 214.77 L189.31 215.55 L189.50 216.33 L189.70 217.10 L189.90 217.88 L190.10 218.66 L190.30 219.43 L190.50 220.21 L190.71 220.98 L190.91 221.76 L191.12 222.53 L191.33 223.30 L191.54 224.08 L191.76 224.85 L191.97 225.62 L192.19 226.39 L192.41 227.16 L192.63 227.93 L192.86 228.70 L193.08 229.47 L193.31 230.24 L193.54 231.01 L193.77 231.77 L194.01 232.54 L194.24 233.31 L194.48 234.07 L194.72 234.84 L194.97 235.60 L195.21 236.36 L195.46 237.12 L195.71 237.89 L195.96 238.65 L196.22 239.41 L196.47 240.17 L196.73 240.92 L197.00 241.68 L197.26 242.44 L197.53 243.19 L197.80 243.95 L198.07 244.70 L198.34 245.45 L198.62 246.21 L198.90 246.96 L199.19 247.71 L199.47 248.45 L199.76 249.20 L200.05 249.95 L200.35 250.69 L200.65 251.44 L200.95 252.18 L201.25 252.92 L201.56 253.66 L201.87 254.40 L202.18 255.14 L202.50 255.87 L202.82 256.61 L203.14 257.34 L203.47 258.07 L203.80 258.80 L204.13 259.53 L204.47 260.26 L204.81 260.99 L205.16 261.71 L205.50 262.43 L205.85 263.15 L206.21 263.87 L206.57 264.59 L206.93 265.30 L207.30 266.01 L207.67 266.72 L208.04 267.43 L208.42 268.14 L208.80 268.84 L209.19 269.55 L209.58 270.24 L209.98 270.94 L210.38 271.64 L210.78 272.33 L211.19 273.02 L211.60 273.71 L212.02 274.39 L212.44 275.07 L212.86 275.75 L213.29 276.43 L213.73 277.10 L214.17 277.77 L214.61 278.44 L215.06 279.10 L215.51 279.76 L215.97 280.42 L216.43 281.08 L216.90 281.73 L217.38 282.37 L217.85 283.02 L218.34 283.66 L218.82 284.29 L219.32 284.92 L219.81 285.55 L220.32 286.18 L220.82 286.80 L221.34 287.41 L221.86 288.02 L222.38 288.63 L222.91 289.23 L223.44 289.83 L223.98 290.43 L224.52 291.02 L225.07 291.60 L225.62 292.18 L226.18 292.75 L226.74 293.32 L227.31 293.89 L227.89 294.45 L228.47 295.00 L229.05 295.55 L229.64 296.10 L230.23 296.64 L230.83 297.17 L231.43 297.70 L232.04 298.22 L232.65 298.74 L233.27 299.25 L233.89 299.75 L234.52 300.25 L235.15 300.75 L235.78 301.24 L236.42 301.72 L237.06 302.20 L237.71 302.67 L238.36 303.14 L239.02 303.60 L239.68 304.05 L240.34 304.50 L241.01 304.94 L241.68 305.38 L242.36 305.81 L243.04 306.24 L243.72 306.66 L244.41 307.07 L245.10 307.48 L245.79 307.88 L246.48 308.28 L247.18 308.67 L247.89 309.06 L248.59 309.44 L249.30 309.81 L250.01 310.18 L250.72 310.55 L251.44 310.91 L252.16 311.26 L252.88 311.61 L253.61 311.95 L254.33 312.29 L255.06 312.62 L255.79 312.95 L256.53 313.27 L257.26 313.59 L258.00 313.90 L258.74 314.21 L259.48 314.51 L260.23 314.81 L260.97 315.10 L261.72 315.39 L262.47 315.67 L263.22 315.95 L263.97 316.23 L264.73 316.50 L265.48 316.77 L266.24 317.03 L267.00 317.29 L267.76 317.54 L268.52 317.79 L269.28 318.04 L270.05 318.28 L270.81 318.52 L271.58 318.75 L272.35 318.98 L273.12 319.21 L273.88 319.43 L274.66 319.65 L275.43 319.87 L276.20 320.08 L276.97 320.29 L277.75 320.50 L278.52 320.71 L279.30 320.91 L280.07 321.10 L280.85 321.30 L281.63 321.49 L282.41 321.68 L283.19 321.86 L283.97 322.05 L284.75 322.23 L285.53 322.41 L286.31 322.58 L287.10 322.75 L287.88 322.92 L288.66 323.09 L289.45 323.26 L290.23 323.42 L291.02 323.58 L291.80 323.74 L292.59 323.90 L293.37 324.06 L294.16 324.21 L294.95 324.36 L295.73 324.51 L296.52 324.66 L297.31 324.80 L298.10 324.95 L298.89 325.09 L299.68 325.23 L300.46 325.37 L301.25 325.51 L302.04 325.65 L302.83 325.78 L303.62 325.91 L304.41 326.05 L305.21 326.18 L306.00 326.31 L306.79 326.43 L307.58 326.56 L308.37 326.69 L309.16 326.81 L309.95 326.93 L310.75 327.06 L311.54 327.18 L312.33 327.30 L313.12 327.42 L313.92 327.54 L314.71 327.65 L315.50 327.77 L316.29 327.88 L317.09 328.00 L317.88 328.11 L318.67 328.22 L319.47 328.34 L320.26 328.45 L321.06 328.56 L321.85 328.67 L322.64 328.77 L323.44 328.88 L324.23 328.99 L325.03 329.09 L325.82 329.20 L326.62 329.31 L327.41 329.41 L328.20 329.51 L329.00 329.62 L329.79 329.72 L330.59 329.82 L331.38 329.92 L332.18 330.02 L332.97 330.12 L333.77 330.22 L334.57 330.32 L335.36 330.41 L336.16 330.51 L336.95 330.61 L337.75 330.70 L338.54 330.80 L339.34 330.89 L340.14 330.98 L340.93 331.08 L341.73 331.17 L342.52 331.26 L343.32 331.35 L344.12 331.44 L344.91 331.53 L345.71 331.62 L346.50 331.71 L347.30 331.80 L348.10 331.89 L348.89 331.97 L349.69 332.06 L350.49 332.15 L351.29 332.23 L352.08 332.32 L352.88 332.40 L353.68 332.48 L354.47 332.56 L355.27 332.65 L356.07 332.73 L356.87 332.81 L357.66 332.89 L358.46 332.97 L359.26 333.04 L360.06 333.12 L360.85 333.20 L361.65 333.28 L362.45 333.35 L363.25 333.43 L364.04 333.50 L364.84 333.58 L365.64 333.65 L366.44 333.72 L367.24 333.79 L368.03 333.87 L368.83 333.94 L369.63 334.01 L370.43 334.08 L371.23 334.15 L372.03 334.21 L372.83 334.28 L373.62 334.35 L374.42 334.42 L375.22 334.48 L376.02 334.55 L376.82 334.61 L377.62 334.68 L378.42 334.74 L379.22 334.80 L380.01 334.87 L380.81 334.93 L381.61 334.99 L382.41 335.05 L383.21 335.11 L384.01 335.17 L384.81 335.23 L385.61 335.29 L386.41 335.35 L387.21 335.40 L388.01 335.46 L388.81 335.52 L389.61 335.57 L390.40 335.63 L391.20 335.68 L392.00 335.74 L392.80 335.79 L393.60 335.84 L394.40 335.90 L395.20 335.95 L396.00 336.00 L396.80 336.05 L397.60 336.10 L398.40 336.15 L399.20 336.20 L400.00 336.25 L400.80 336.30 L401.60 336.35 L402.40 336.40 L403.20 336.45 L404.00 336.49 L404.80 336.54 L405.60 336.59 L406.40 336.63 L407.20 336.68 L408.00 336.72 L408.80 336.77 L409.60 336.81 L410.40 336.86 L411.20 336.90 L412.00 336.95 L412.80 336.99 L413.60 337.03 L414.40 337.07 L415.20 337.11 L416.00 337.16 L416.80 337.20 L417.60 337.24 L418.41 337.28 L419.21 337.32 L420.01 337.36 L420.81 337.40 L421.61 337.44 L422.41 337.47 L423.21 337.51 L424.01 337.55 L424.81 337.59 L425.61 337.62 L426.41 337.66 L427.21 337.70 L428.01 337.73 L428.81 337.77 L429.61 337.81 L430.41 337.84 L431.21 337.88 L432.01 337.91 L432.81 337.94 L433.62 337.98 L434.42 338.01 L435.22 338.04 L436.02 338.08 L436.82 338.11 L437.62 338.14 L438.42 338.17 L439.22 338.20 L440.02 338.24 L440.82 338.27 L441.62 338.30 L442.42 338.33 L443.23 338.36 L444.03 338.39 L444.83 338.42 L445.63 338.44 L446.43 338.47 L447.23 338.50 L448.03 338.53 L448.83 338.56 L449.63 338.58 L450.43 338.61 L451.23 338.64 L452.04 338.66 L452.84 338.69 L453.64 338.72 L454.44 338.74 L455.24 338.77 L456.04 338.79 L456.84 338.82 L457.64 338.84 L458.44 338.86 L459.24 338.89 L460.05 338.91 L460.85 338.93 L461.65 338.96 L462.45 338.98 L463.25 339.00 L464.05 339.02 L464.85 339.05 L465.65 339.07 L466.45 339.09 L467.26 339.11 L468.06 339.13 L468.86 339.15 L469.66 339.17 L470.46 339.19 L471.26 339.21 L472.06 339.23 L472.86 339.25 L473.66 339.27 L474.47 339.29 L475.27 339.31 L476.07 339.33 L476.87 339.34 L477.67 339.36 L478.47 339.38 L479.27 339.40 L480.07 339.42 L480.88 339.43 L481.68 339.45 L482.48 339.47 L483.28 339.49 L484.08 339.50 L484.88 339.52 L485.68 339.54 L486.48 339.55 L487.29 339.57 L488.09 339.58 L488.89 339.60 L489.69 339.62 L490.49 339.63 L491.29 339.65 L492.09 339.66 L492.89 339.68 L493.70 339.69 L494.50 339.71 L495.30 339.72 L496.10 339.74 L496.90 339.75 L497.70 339.77 L498.50 339.78 L499.30 339.80 L500.11 339.81 L500.91 339.83 L501.71 339.84 L502.51 339.85 L503.31 339.87 L504.11 339.88 L504.91 339.90 L505.71 339.91 L506.52 339.92 L507.32 339.94 L508.12 339.95 L508.92 339.96 L509.72 339.98 L510.52 339.99 L511.32 340.00 L512.12 340.02 L512.93 340.03 L513.73 340.04 L514.53 340.05 L515.33 340.07 L516.13 340.08 L516.93 340.09 L517.73 340.11 L518.54 340.12 L519.34 340.13 L520.14 340.14 L520.94 340.16 L521.74 340.17 L522.54 340.18 L523.34 340.19 L524.14 340.21 L524.95 340.22 L525.75 340.23 L526.55 340.24 L527.35 340.25 L528.15 340.27 L528.95 340.28 L529.75 340.29 L530.55 340.30 L531.36 340.31 L532.16 340.33 L532.96 340.34 L533.76 340.35 L534.56 340.36 L535.36 340.37 L536.16 340.39 L536.97 340.40 L537.77 340.41 L538.57 340.42 L539.37 340.43 L540.17 340.44 L540.97 340.46 L541.77 340.47 L542.57 340.48 L543.38 340.49 L544.18 340.50 L544.98 340.51 L545.78 340.52 L546.58 340.54 L547.38 340.55 L548.18 340.56 L548.99 340.57 L549.79 340.58 L550.59 340.59 L551.39 340.60 L552.19 340.62 L552.99 340.63 L553.79 340.64 L554.59 340.65 L555.40 340.66 L556.20 340.67 L557.00 340.68 L557.80 340.69 L558.60 340.71 L559.40 340.72 L560.20 340.73 L561.01 340.74 L561.81 340.75 L562.61 340.76 L563.41 340.77 L564.21 340.78 L565.01 340.79 L565.81 340.80 L566.61 340.81 L567.42 340.82 L568.22 340.83 L569.02 340.85 L569.82 340.86 L570.62 340.87 L571.42 340.88 L572.22 340.89 L573.03 340.90 L573.83 340.91 L574.63 340.92 L575.43 340.93 L576.23 340.94 L577.03 340.95 L577.83 340.96 L578.63 340.97 L579.44 340.98 L580.24 340.99 L581.04 341.00 L581.84 341.01 L582.64 341.02 L583.44 341.03 L584.24 341.04 L585.05 341.05 L585.85 341.06 L586.65 341.07 L587.45 341.08 L588.25 341.09 L589.05 341.09 L589.85 341.10 L590.66 341.11 L591.46 341.12 L592.26 341.13 L593.06 341.14 L593.86 341.15 L594.66 341.16 L595.46 341.17 L596.26 341.18 L597.07 341.19 L597.87 341.19 L598.67 341.20 L599.47 341.21 L600.27 341.22 L601.07 341.23 L601.87 341.24 L602.68 341.25 L603.48 341.26 L604.28 341.26 L605.08 341.27 L605.88 341.28 L606.68 341.29 L607.48 341.30 L608.28 341.31 L609.09 341.31 L609.89 341.32 L610.69 341.33 L611.49 341.34 L612.29 341.35 L613.09 341.35 L613.89 341.36 L614.70 341.37 L615.50 341.38 L616.30 341.38 L617.10 341.39 L617.90 341.40 L618.70 341.41 L619.50 341.41 L620.31 341.42 L621.11 341.43 L621.91 341.44 L622.71 341.44 L623.51 341.45 L624.31 341.46 L625.11 341.47 L625.92 341.47 L626.72 341.48 L627.52 341.49 L628.32 341.49 L629.12 341.50 L629.92 341.51 L630.72 341.51 L631.52 341.52 L632.33 341.53 L633.13 341.53 L633.93 341.54 L634.73 341.55 L635.53 341.55 L636.33 341.56 L637.13 341.56 L637.94 341.57 L638.74 341.58 L639.54 341.58 L640.34 341.59 L641.14 341.59 L641.94 341.60 L642.74 341.61 L643.55 341.61 L644.35 341.62 L645.15 341.62 L645.95 341.63 L646.75 341.64 L647.55 341.64 L648.35 341.65 L649.16 341.65 L649.96 341.66 L650.76 341.66 L651.56 341.67 L652.36 341.67 L653.16 341.68 L653.96 341.68 L654.76 341.69 L655.57 341.69 L656.37 341.70 L657.17 341.70 L657.97 341.71 L658.77 341.71 L659.57 341.72 L660.37 341.72 L661.18 341.73 L661.98 341.73 L662.78 341.74 L663.58 341.74 L664.38 341.75 L665.18 341.75 L665.98 341.76 L666.79 341.76 L667.59 341.77 L668.39 341.77 L669.19 341.78 L669.99 341.78 L670.79 341.78 L671.59 341.79 L672.40 341.79 L673.20 341.80 L674.00 341.80 L674.80 341.81 L675.60 341.81 L676.40 341.82 L677.20 341.82 L678.01 341.82 L678.81 341.83 L679.61 341.83 L680.41 341.84 L681.21 341.84 L682.01 341.84 L682.81 341.85 L683.62 341.85 L684.42 341.86 L685.22 341.86 L686.02 341.86 L686.82 341.87 L687.62 341.87 L688.42 341.88 L689.22 341.88 L690.03 341.88 L690.83 341.89 L691.63 341.89 L692.43 341.90 L693.23 341.90 L694.03 341.90 L694.83 341.91 L695.64 341.91 L696.44 341.92 L697.24 341.92 L698.04 341.92 L698.84 341.93 L699.64 341.93 L700.44 341.93 L701.25 341.94 L702.05 341.94 L702.85 341.94 L703.65 341.95 L704.45 341.95 L705.25 341.96 L706.05 341.96 L706.86 341.96 L707.66 341.97 L708.46 341.97 L709.26 341.97 L710.06 341.98 L710.86 341.98 L711.66 341.98 L712.47 341.99 L713.27 341.99 L714.07 341.99 L714.87 342.00 L715.67 342.00 L716.47 342.01 L717.27 342.01 L718.08 342.01" stroke="#ff00ff" stroke-width="4.2"/>
<g stroke="#000" stroke-width="1.8">
<path d="M92.8 259.5 H716.0" stroke-dasharray="1.7 4.3 6.8 4.15"/>
<path d="M93.6 291.2 H716.0" stroke-dasharray="6.8 4.2 1.7 4.3 6.8 4.42"/>
<path d="M93.4 322.4 H716.0" stroke-width="1"/>
<path d="M76.7 325.1 H716.0" stroke-dasharray="6.6 4.3 1.6 4.0 1.6 4.5"/>
<path d="M93.5 344.0 H716.0" stroke-dasharray="6.3 4.98"/>
</g>
</g>
<path d="M197.17 529.50 v-6.40 M197.17 93.50 v6.40 M300.93 529.50 v-12.30 M300.93 93.50 v12.30 M404.70 529.50 v-6.40 M404.70 93.50 v6.40 M508.47 529.50 v-12.30 M508.47 93.50 v12.30 M612.23 529.50 v-6.40 M612.23 93.50 v6.40 M93.40 515.44 h6.40 M716.00 515.44 h-6.40 M93.40 459.18 h12.30 M716.00 459.18 h-12.30 M93.40 402.92 h6.40 M716.00 402.92 h-6.40 M93.40 346.66 h12.30 M716.00 346.66 h-12.30 M93.40 290.40 h6.40 M716.00 290.40 h-6.40 M93.40 234.15 h12.30 M716.00 234.15 h-12.30 M93.40 177.89 h6.40 M716.00 177.89 h-6.40 M93.40 121.63 h12.30 M716.00 121.63 h-12.30" stroke="#000" stroke-width="1.3" fill="none"/>
<rect x="529.4" y="93.5" width="103.5" height="135" fill="#fff" stroke="#000" stroke-width="1.2"/>
<path d="M536.9 105.50 H587.3" stroke="#000000" stroke-width="4" fill="none"/>
<text x="599.6" y="111.10" font-size="17.2">n=1</text>
<path d="M536.9 123.93 H587.3" stroke="#ff0000" stroke-width="4" fill="none"/>
<text x="599.6" y="129.53" font-size="17.2">n=2</text>
<path d="M536.9 142.36 H587.3" stroke="#00ff00" stroke-width="4" fill="none"/>
<text x="599.6" y="147.96" font-size="17.2">n=3</text>
<path d="M536.9 160.79 H587.3" stroke="#0000ff" stroke-width="4" fill="none"/>
<text x="599.6" y="166.39" font-size="17.2">n=4</text>
<path d="M536.9 179.22 H587.3" stroke="#ffff00" stroke-width="4" fill="none"/>
<text x="599.6" y="184.82" font-size="17.2">n=5</text>
<path d="M536.9 197.65 H587.3" stroke="#bc8f8f" stroke-width="4" fill="none"/>
<text x="599.6" y="203.25" font-size="17.2">n=6</text>
<path d="M536.9 216.08 H587.3" stroke="#ff00ff" stroke-width="4" fill="none"/>
<text x="599.6" y="221.68" font-size="17.2">n=7</text>
<rect x="93.40" y="93.50" width="622.60" height="436.00" fill="none" stroke="#000" stroke-width="1.25"/>
<text x="93.70" y="554.7" font-size="27.5" text-anchor="middle">0</text>
<text x="301.23" y="554.7" font-size="27.5" text-anchor="middle">20</text>
<text x="508.77" y="554.7" font-size="27.5" text-anchor="middle">40</text>
<text x="716.30" y="554.7" font-size="27.5" text-anchor="middle">60</text>
<text x="88.3" y="467.93" font-size="25.5" text-anchor="end">-4</text>
<text x="88.3" y="355.41" font-size="25.5" text-anchor="end">0</text>
<text x="88.3" y="242.90" font-size="25.5" text-anchor="end">4</text>
<text x="88.3" y="130.38" font-size="25.5" text-anchor="end">8</text>
<text x="365.2" y="582.2" font-size="32" style="font-family:'Liberation Sans',sans-serif">ρ</text>
<text x="445.6" y="582.2" font-size="30.8" text-anchor="end">(fm)</text>
<text transform="translate(47.6 382.2) rotate(-90)" font-size="30.5">V<tspan font-size="22" dy="12.6">eff</tspan><tspan dy="-12.6" dx="2.2"> (MeV)</tspan></text>
<g stroke="#000" stroke-width="1.5" fill="none">
<path d="M373.1 124.1 H412.4" stroke-dasharray="7.4 3.9"/>
<path d="M373.1 151.8 H409.0" stroke-dasharray="2 3.7 7.3 4.0"/>
<path d="M374.0 178.7 H410.0" stroke-dasharray="2 3.9 7.1 4.0 2 3.7 2 3.8 7.5 4"/>
<path d="M375.1 205.3 H410.8" stroke-dasharray="7.0 4.0 1.9 3.9 7.2 4.0 7.7 4"/>
</g>
<text x="418.5" y="132.5" font-size="21.5"><tspan font-size="15.4" dy="-12.4">8</tspan><tspan dy="12.4">Be(0</tspan><tspan font-size="16.5" dy="-10.6" dx="0.3">+</tspan><tspan dy="10.6" dx="0.4">)</tspan></text>
<text x="419.6" y="161.0" font-size="21.5"><tspan font-size="15.4" dy="-12.4">8</tspan><tspan dy="12.4">Be(2</tspan><tspan font-size="16.5" dy="-10.6" dx="0.3">+</tspan><tspan dy="10.6" dx="0.4">)</tspan></text>
<text x="419.2" y="187.5" font-size="21.5"><tspan font-size="15.4" dy="-12.4">5</tspan><tspan dy="12.4">He(p</tspan><tspan font-size="15.4" dy="9.1">3/2</tspan><tspan dy="-9.1">)</tspan></text>
<text x="421.4" y="215.2" font-size="21.5"><tspan font-size="15.4" dy="-12.4">5</tspan><tspan dy="12.4">He(p</tspan><tspan font-size="15.4" dy="9.1">1/2</tspan><tspan dy="-9.1">)</tspan></text>
</svg>
</body></html>
